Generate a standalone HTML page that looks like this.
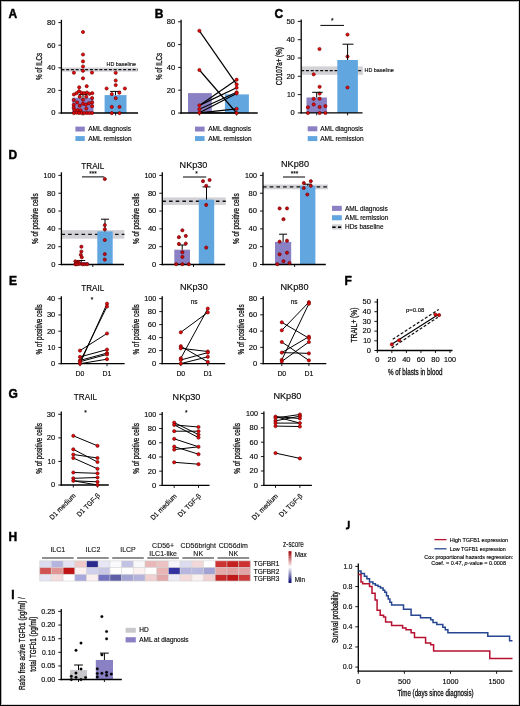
<!DOCTYPE html>
<html><head><meta charset="utf-8"><style>
html,body{margin:0;padding:0;background:#fff;overflow:hidden;}
svg{display:block;font-family:"Liberation Sans",sans-serif;will-change:transform;}
text{stroke:#111;stroke-width:0.14px;}
</style></head><body>
<svg width="520" height="706" viewBox="0 0 520 706">
<rect x="0" y="0" width="520" height="706" fill="#fff"/>
<text x="8.40" y="17.70" font-size="12" font-weight="bold" fill="#000" style="stroke:#000;stroke-width:0.45px">A</text>
<rect x="61.40" y="67.50" width="76.60" height="4.20" fill="#d2d2d6"/>
<line x1="61.40" y1="69.60" x2="138.00" y2="69.60" stroke="#111" stroke-width="1.35" stroke-dasharray="3.0,1.75"/>
<text x="136.00" y="65.70" font-size="5.8" text-anchor="end" textLength="29.5" lengthAdjust="spacingAndGlyphs">HD baseline</text>
<rect x="72.30" y="97.70" width="21.20" height="15.30" fill="#8a80c4"/>
<rect x="104.60" y="95.10" width="21.90" height="17.90" fill="#62a6e0"/>
<line x1="83.00" y1="97.70" x2="83.00" y2="94.60" stroke="#000" stroke-width="1.0"/>
<line x1="78.60" y1="94.60" x2="87.40" y2="94.60" stroke="#000" stroke-width="1.0"/>
<line x1="115.50" y1="95.10" x2="115.50" y2="91.40" stroke="#000" stroke-width="1.0"/>
<line x1="110.15" y1="91.40" x2="120.85" y2="91.40" stroke="#000" stroke-width="1.0"/>
<line x1="61.40" y1="19.80" x2="61.40" y2="113.65" stroke="#000" stroke-width="1.3"/>
<line x1="58.40" y1="22.60" x2="61.40" y2="22.60" stroke="#000" stroke-width="0.9"/>
<text x="55.40" y="24.95" font-size="6.5" text-anchor="end" textLength="8.4" lengthAdjust="spacingAndGlyphs">80</text>
<line x1="58.40" y1="45.20" x2="61.40" y2="45.20" stroke="#000" stroke-width="0.9"/>
<text x="55.40" y="47.55" font-size="6.5" text-anchor="end" textLength="8.4" lengthAdjust="spacingAndGlyphs">60</text>
<line x1="58.40" y1="67.80" x2="61.40" y2="67.80" stroke="#000" stroke-width="0.9"/>
<text x="55.40" y="70.15" font-size="6.5" text-anchor="end" textLength="8.4" lengthAdjust="spacingAndGlyphs">40</text>
<line x1="58.40" y1="90.40" x2="61.40" y2="90.40" stroke="#000" stroke-width="0.9"/>
<text x="55.40" y="92.75" font-size="6.5" text-anchor="end" textLength="8.4" lengthAdjust="spacingAndGlyphs">20</text>
<line x1="58.40" y1="113.00" x2="61.40" y2="113.00" stroke="#000" stroke-width="0.9"/>
<text x="55.40" y="115.35" font-size="6.5" text-anchor="end" textLength="4.2" lengthAdjust="spacingAndGlyphs">0</text>
<line x1="60.75" y1="113.00" x2="138.00" y2="113.00" stroke="#000" stroke-width="1.3"/>
<line x1="83.00" y1="113.00" x2="83.00" y2="115.50" stroke="#000" stroke-width="0.9"/>
<line x1="115.60" y1="113.00" x2="115.60" y2="115.50" stroke="#000" stroke-width="0.9"/>
<text x="42.00" y="66.45" font-size="9.2" text-anchor="middle" textLength="27.3" lengthAdjust="spacingAndGlyphs" style="stroke:#1a1a1a;stroke-width:0.3px" transform="rotate(-90 42.00 66.45)">% of ILCs</text>
<circle cx="83.00" cy="32.00" r="1.6" fill="#e60a0a" stroke="#6e0000" stroke-width="0.65"/>
<circle cx="83.00" cy="54.50" r="1.6" fill="#e60a0a" stroke="#6e0000" stroke-width="0.65"/>
<circle cx="83.00" cy="61.40" r="1.6" fill="#e60a0a" stroke="#6e0000" stroke-width="0.65"/>
<circle cx="83.00" cy="66.50" r="1.6" fill="#e60a0a" stroke="#6e0000" stroke-width="0.65"/>
<circle cx="73.90" cy="72.70" r="1.6" fill="#e60a0a" stroke="#6e0000" stroke-width="0.65"/>
<circle cx="83.00" cy="70.80" r="1.6" fill="#e60a0a" stroke="#6e0000" stroke-width="0.65"/>
<circle cx="92.00" cy="72.60" r="1.6" fill="#e60a0a" stroke="#6e0000" stroke-width="0.65"/>
<circle cx="83.00" cy="78.30" r="1.6" fill="#e60a0a" stroke="#6e0000" stroke-width="0.65"/>
<circle cx="79.20" cy="87.30" r="1.6" fill="#e60a0a" stroke="#6e0000" stroke-width="0.65"/>
<circle cx="86.70" cy="86.20" r="1.6" fill="#e60a0a" stroke="#6e0000" stroke-width="0.65"/>
<circle cx="79.00" cy="91.20" r="1.6" fill="#e60a0a" stroke="#6e0000" stroke-width="0.65"/>
<circle cx="73.90" cy="94.50" r="1.6" fill="#e60a0a" stroke="#6e0000" stroke-width="0.65"/>
<circle cx="76.50" cy="93.20" r="1.6" fill="#e60a0a" stroke="#6e0000" stroke-width="0.65"/>
<circle cx="81.40" cy="92.80" r="1.6" fill="#e60a0a" stroke="#6e0000" stroke-width="0.65"/>
<circle cx="84.00" cy="93.20" r="1.6" fill="#e60a0a" stroke="#6e0000" stroke-width="0.65"/>
<circle cx="86.90" cy="92.50" r="1.6" fill="#e60a0a" stroke="#6e0000" stroke-width="0.65"/>
<circle cx="89.50" cy="93.80" r="1.6" fill="#e60a0a" stroke="#6e0000" stroke-width="0.65"/>
<circle cx="92.30" cy="93.20" r="1.6" fill="#e60a0a" stroke="#6e0000" stroke-width="0.65"/>
<circle cx="79.70" cy="96.70" r="1.6" fill="#e60a0a" stroke="#6e0000" stroke-width="0.65"/>
<circle cx="86.30" cy="96.70" r="1.6" fill="#e60a0a" stroke="#6e0000" stroke-width="0.65"/>
<circle cx="92.10" cy="98.00" r="1.6" fill="#e60a0a" stroke="#6e0000" stroke-width="0.65"/>
<circle cx="73.70" cy="100.10" r="1.6" fill="#e60a0a" stroke="#6e0000" stroke-width="0.65"/>
<circle cx="83.00" cy="99.70" r="1.6" fill="#e60a0a" stroke="#6e0000" stroke-width="0.65"/>
<circle cx="77.10" cy="102.40" r="1.6" fill="#e60a0a" stroke="#6e0000" stroke-width="0.65"/>
<circle cx="92.10" cy="102.40" r="1.6" fill="#e60a0a" stroke="#6e0000" stroke-width="0.65"/>
<circle cx="83.00" cy="103.70" r="1.6" fill="#e60a0a" stroke="#6e0000" stroke-width="0.65"/>
<circle cx="88.90" cy="103.30" r="1.6" fill="#e60a0a" stroke="#6e0000" stroke-width="0.65"/>
<circle cx="85.90" cy="104.60" r="1.6" fill="#e60a0a" stroke="#6e0000" stroke-width="0.65"/>
<circle cx="73.70" cy="104.90" r="1.6" fill="#e60a0a" stroke="#6e0000" stroke-width="0.65"/>
<circle cx="79.70" cy="105.70" r="1.6" fill="#e60a0a" stroke="#6e0000" stroke-width="0.65"/>
<circle cx="92.10" cy="106.20" r="1.6" fill="#e60a0a" stroke="#6e0000" stroke-width="0.65"/>
<circle cx="73.70" cy="107.80" r="1.6" fill="#e60a0a" stroke="#6e0000" stroke-width="0.65"/>
<circle cx="86.30" cy="108.60" r="1.6" fill="#e60a0a" stroke="#6e0000" stroke-width="0.65"/>
<circle cx="77.80" cy="110.10" r="1.6" fill="#e60a0a" stroke="#6e0000" stroke-width="0.65"/>
<circle cx="80.70" cy="110.40" r="1.6" fill="#e60a0a" stroke="#6e0000" stroke-width="0.65"/>
<circle cx="74.50" cy="110.10" r="1.6" fill="#e60a0a" stroke="#6e0000" stroke-width="0.65"/>
<circle cx="73.90" cy="113.00" r="1.6" fill="#e60a0a" stroke="#6e0000" stroke-width="0.65"/>
<circle cx="76.50" cy="112.70" r="1.6" fill="#e60a0a" stroke="#6e0000" stroke-width="0.65"/>
<circle cx="79.10" cy="113.00" r="1.6" fill="#e60a0a" stroke="#6e0000" stroke-width="0.65"/>
<circle cx="81.70" cy="113.00" r="1.6" fill="#e60a0a" stroke="#6e0000" stroke-width="0.65"/>
<circle cx="84.30" cy="113.00" r="1.6" fill="#e60a0a" stroke="#6e0000" stroke-width="0.65"/>
<circle cx="86.90" cy="113.00" r="1.6" fill="#e60a0a" stroke="#6e0000" stroke-width="0.65"/>
<circle cx="89.50" cy="113.00" r="1.6" fill="#e60a0a" stroke="#6e0000" stroke-width="0.65"/>
<circle cx="92.10" cy="113.00" r="1.6" fill="#e60a0a" stroke="#6e0000" stroke-width="0.65"/>
<circle cx="115.70" cy="72.80" r="1.6" fill="#e60a0a" stroke="#6e0000" stroke-width="0.65"/>
<circle cx="115.70" cy="80.50" r="1.6" fill="#e60a0a" stroke="#6e0000" stroke-width="0.65"/>
<circle cx="115.70" cy="85.10" r="1.6" fill="#e60a0a" stroke="#6e0000" stroke-width="0.65"/>
<circle cx="106.60" cy="88.50" r="1.6" fill="#e60a0a" stroke="#6e0000" stroke-width="0.65"/>
<circle cx="124.90" cy="88.50" r="1.6" fill="#e60a0a" stroke="#6e0000" stroke-width="0.65"/>
<circle cx="111.80" cy="94.10" r="1.6" fill="#e60a0a" stroke="#6e0000" stroke-width="0.65"/>
<circle cx="119.30" cy="92.70" r="1.6" fill="#e60a0a" stroke="#6e0000" stroke-width="0.65"/>
<circle cx="115.70" cy="98.20" r="1.6" fill="#e60a0a" stroke="#6e0000" stroke-width="0.65"/>
<circle cx="111.80" cy="106.90" r="1.6" fill="#e60a0a" stroke="#6e0000" stroke-width="0.65"/>
<circle cx="119.50" cy="106.90" r="1.6" fill="#e60a0a" stroke="#6e0000" stroke-width="0.65"/>
<circle cx="111.80" cy="113.10" r="1.6" fill="#e60a0a" stroke="#6e0000" stroke-width="0.65"/>
<circle cx="119.50" cy="113.10" r="1.6" fill="#e60a0a" stroke="#6e0000" stroke-width="0.65"/>
<rect x="75.40" y="126.60" width="9.40" height="4.90" fill="#8a80c4"/>
<text x="88.20" y="131.40" font-size="6.5" textLength="42.8" lengthAdjust="spacingAndGlyphs">AML diagnosis</text>
<rect x="75.40" y="136.10" width="9.40" height="4.90" fill="#62a6e0"/>
<text x="88.20" y="140.90" font-size="6.5" textLength="43.5" lengthAdjust="spacingAndGlyphs">AML remission</text>
<text x="154.80" y="17.70" font-size="12" font-weight="bold" fill="#000" style="stroke:#000;stroke-width:0.45px">B</text>
<rect x="188.00" y="93.10" width="23.80" height="19.90" fill="#8a80c4"/>
<rect x="224.90" y="94.40" width="24.00" height="18.60" fill="#62a6e0"/>
<line x1="181.10" y1="19.80" x2="181.10" y2="113.65" stroke="#000" stroke-width="1.3"/>
<line x1="178.10" y1="21.80" x2="181.10" y2="21.80" stroke="#000" stroke-width="0.9"/>
<text x="175.10" y="24.15" font-size="6.5" text-anchor="end" textLength="8.4" lengthAdjust="spacingAndGlyphs">80</text>
<line x1="178.10" y1="44.60" x2="181.10" y2="44.60" stroke="#000" stroke-width="0.9"/>
<text x="175.10" y="46.95" font-size="6.5" text-anchor="end" textLength="8.4" lengthAdjust="spacingAndGlyphs">60</text>
<line x1="178.10" y1="67.40" x2="181.10" y2="67.40" stroke="#000" stroke-width="0.9"/>
<text x="175.10" y="69.75" font-size="6.5" text-anchor="end" textLength="8.4" lengthAdjust="spacingAndGlyphs">40</text>
<line x1="178.10" y1="90.20" x2="181.10" y2="90.20" stroke="#000" stroke-width="0.9"/>
<text x="175.10" y="92.55" font-size="6.5" text-anchor="end" textLength="8.4" lengthAdjust="spacingAndGlyphs">20</text>
<line x1="178.10" y1="113.00" x2="181.10" y2="113.00" stroke="#000" stroke-width="0.9"/>
<text x="175.10" y="115.35" font-size="6.5" text-anchor="end" textLength="4.2" lengthAdjust="spacingAndGlyphs">0</text>
<line x1="180.45" y1="113.00" x2="257.70" y2="113.00" stroke="#000" stroke-width="1.3"/>
<line x1="199.40" y1="113.00" x2="199.40" y2="115.50" stroke="#000" stroke-width="0.9"/>
<line x1="236.60" y1="113.00" x2="236.60" y2="115.50" stroke="#000" stroke-width="0.9"/>
<text x="161.70" y="66.45" font-size="9.2" text-anchor="middle" textLength="27.3" lengthAdjust="spacingAndGlyphs" style="stroke:#1a1a1a;stroke-width:0.3px" transform="rotate(-90 161.70 66.45)">% of ILCs</text>
<line x1="199.40" y1="30.80" x2="236.60" y2="84.30" stroke="#000" stroke-width="1.2"/>
<line x1="199.40" y1="70.00" x2="236.60" y2="113.00" stroke="#000" stroke-width="1.2"/>
<line x1="199.40" y1="105.40" x2="236.60" y2="79.70" stroke="#000" stroke-width="1.2"/>
<line x1="199.40" y1="105.40" x2="236.60" y2="87.70" stroke="#000" stroke-width="1.2"/>
<line x1="199.40" y1="109.20" x2="236.60" y2="92.30" stroke="#000" stroke-width="1.2"/>
<line x1="199.40" y1="112.80" x2="236.60" y2="93.50" stroke="#000" stroke-width="1.2"/>
<line x1="199.40" y1="112.80" x2="236.60" y2="108.80" stroke="#000" stroke-width="1.2"/>
<line x1="199.40" y1="112.80" x2="236.60" y2="113.00" stroke="#000" stroke-width="1.2"/>
<circle cx="199.40" cy="30.80" r="1.6" fill="#e60a0a" stroke="#6e0000" stroke-width="0.65"/>
<circle cx="199.40" cy="70.00" r="1.6" fill="#e60a0a" stroke="#6e0000" stroke-width="0.65"/>
<circle cx="199.40" cy="105.40" r="1.6" fill="#e60a0a" stroke="#6e0000" stroke-width="0.65"/>
<circle cx="199.40" cy="109.20" r="1.6" fill="#e60a0a" stroke="#6e0000" stroke-width="0.65"/>
<circle cx="199.40" cy="112.80" r="1.6" fill="#e60a0a" stroke="#6e0000" stroke-width="0.65"/>
<circle cx="236.60" cy="79.70" r="1.6" fill="#e60a0a" stroke="#6e0000" stroke-width="0.65"/>
<circle cx="236.60" cy="84.30" r="1.6" fill="#e60a0a" stroke="#6e0000" stroke-width="0.65"/>
<circle cx="236.60" cy="87.70" r="1.6" fill="#e60a0a" stroke="#6e0000" stroke-width="0.65"/>
<circle cx="236.60" cy="92.30" r="1.6" fill="#e60a0a" stroke="#6e0000" stroke-width="0.65"/>
<circle cx="236.60" cy="93.50" r="1.6" fill="#e60a0a" stroke="#6e0000" stroke-width="0.65"/>
<circle cx="236.60" cy="108.80" r="1.6" fill="#e60a0a" stroke="#6e0000" stroke-width="0.65"/>
<circle cx="236.60" cy="113.00" r="1.6" fill="#e60a0a" stroke="#6e0000" stroke-width="0.65"/>
<rect x="195.00" y="126.60" width="9.60" height="4.90" fill="#8a80c4"/>
<text x="208.20" y="131.40" font-size="6.5" textLength="42.8" lengthAdjust="spacingAndGlyphs">AML diagnosis</text>
<rect x="195.00" y="136.10" width="9.60" height="4.90" fill="#62a6e0"/>
<text x="208.20" y="140.90" font-size="6.5" textLength="43.5" lengthAdjust="spacingAndGlyphs">AML remission</text>
<text x="274.40" y="17.70" font-size="12" font-weight="bold" fill="#000" style="stroke:#000;stroke-width:0.45px">C</text>
<rect x="301.20" y="66.40" width="61.70" height="8.40" fill="#d2d2d6"/>
<line x1="301.20" y1="70.60" x2="362.90" y2="70.60" stroke="#111" stroke-width="1.35" stroke-dasharray="3.0,1.75"/>
<text x="364.50" y="71.70" font-size="5.8" textLength="29.3" lengthAdjust="spacingAndGlyphs">HD baseline</text>
<rect x="306.50" y="97.50" width="20.40" height="15.40" fill="#8a80c4"/>
<rect x="337.30" y="60.00" width="20.60" height="52.90" fill="#62a6e0"/>
<line x1="301.20" y1="19.50" x2="301.20" y2="113.55" stroke="#000" stroke-width="1.3"/>
<line x1="297.80" y1="21.40" x2="301.20" y2="21.40" stroke="#000" stroke-width="0.9"/>
<text x="294.80" y="23.75" font-size="6.5" text-anchor="end" textLength="8.4" lengthAdjust="spacingAndGlyphs">50</text>
<line x1="297.80" y1="39.70" x2="301.20" y2="39.70" stroke="#000" stroke-width="0.9"/>
<text x="294.80" y="42.05" font-size="6.5" text-anchor="end" textLength="8.4" lengthAdjust="spacingAndGlyphs">40</text>
<line x1="297.80" y1="58.00" x2="301.20" y2="58.00" stroke="#000" stroke-width="0.9"/>
<text x="294.80" y="60.35" font-size="6.5" text-anchor="end" textLength="8.4" lengthAdjust="spacingAndGlyphs">30</text>
<line x1="297.80" y1="76.30" x2="301.20" y2="76.30" stroke="#000" stroke-width="0.9"/>
<text x="294.80" y="78.65" font-size="6.5" text-anchor="end" textLength="8.4" lengthAdjust="spacingAndGlyphs">20</text>
<line x1="297.80" y1="94.60" x2="301.20" y2="94.60" stroke="#000" stroke-width="0.9"/>
<text x="294.80" y="96.95" font-size="6.5" text-anchor="end" textLength="7.7" lengthAdjust="spacingAndGlyphs">10</text>
<line x1="297.80" y1="112.90" x2="301.20" y2="112.90" stroke="#000" stroke-width="0.9"/>
<text x="294.80" y="115.25" font-size="6.5" text-anchor="end" textLength="4.2" lengthAdjust="spacingAndGlyphs">0</text>
<line x1="300.55" y1="112.90" x2="362.50" y2="112.90" stroke="#000" stroke-width="1.3"/>
<line x1="316.70" y1="112.90" x2="316.70" y2="115.40" stroke="#000" stroke-width="0.9"/>
<line x1="347.60" y1="112.90" x2="347.60" y2="115.40" stroke="#000" stroke-width="0.9"/>
<text x="281.60" y="66.20" font-size="8.9" text-anchor="middle" textLength="37.9" lengthAdjust="spacingAndGlyphs" style="stroke:#1a1a1a;stroke-width:0.3px" transform="rotate(-90 281.60 66.20)">CD107a+ (%)</text>
<line x1="320.40" y1="25.40" x2="344.00" y2="25.40" stroke="#000" stroke-width="1.0"/>
<text x="332.20" y="22.70" font-size="6.5" text-anchor="middle">*</text>
<circle cx="319.50" cy="49.00" r="1.6" fill="#e60a0a" stroke="#6e0000" stroke-width="0.65"/>
<circle cx="313.70" cy="74.30" r="1.6" fill="#e60a0a" stroke="#6e0000" stroke-width="0.65"/>
<circle cx="319.60" cy="86.80" r="1.6" fill="#e60a0a" stroke="#6e0000" stroke-width="0.65"/>
<circle cx="319.60" cy="93.60" r="1.6" fill="#e60a0a" stroke="#6e0000" stroke-width="0.65"/>
<circle cx="313.70" cy="98.80" r="1.6" fill="#e60a0a" stroke="#6e0000" stroke-width="0.65"/>
<circle cx="319.60" cy="98.70" r="1.6" fill="#e60a0a" stroke="#6e0000" stroke-width="0.65"/>
<circle cx="313.70" cy="104.40" r="1.6" fill="#e60a0a" stroke="#6e0000" stroke-width="0.65"/>
<circle cx="307.90" cy="107.30" r="1.6" fill="#e60a0a" stroke="#6e0000" stroke-width="0.65"/>
<circle cx="319.60" cy="107.00" r="1.6" fill="#e60a0a" stroke="#6e0000" stroke-width="0.65"/>
<circle cx="325.40" cy="106.10" r="1.6" fill="#e60a0a" stroke="#6e0000" stroke-width="0.65"/>
<circle cx="307.90" cy="113.00" r="1.6" fill="#e60a0a" stroke="#6e0000" stroke-width="0.65"/>
<circle cx="319.60" cy="113.00" r="1.6" fill="#e60a0a" stroke="#6e0000" stroke-width="0.65"/>
<circle cx="325.40" cy="113.00" r="1.6" fill="#e60a0a" stroke="#6e0000" stroke-width="0.65"/>
<circle cx="347.50" cy="34.60" r="1.6" fill="#e60a0a" stroke="#6e0000" stroke-width="0.65"/>
<circle cx="347.50" cy="56.50" r="1.6" fill="#e60a0a" stroke="#6e0000" stroke-width="0.65"/>
<circle cx="347.50" cy="87.50" r="1.6" fill="#e60a0a" stroke="#6e0000" stroke-width="0.65"/>
<line x1="316.70" y1="97.50" x2="316.70" y2="92.30" stroke="#000" stroke-width="1.0"/>
<line x1="312.20" y1="92.30" x2="322.80" y2="92.30" stroke="#000" stroke-width="1.0"/>
<line x1="347.60" y1="60.00" x2="347.60" y2="44.20" stroke="#000" stroke-width="1.0"/>
<line x1="342.50" y1="44.20" x2="353.50" y2="44.20" stroke="#000" stroke-width="1.0"/>
<rect x="307.70" y="126.30" width="9.60" height="5.00" fill="#8a80c4"/>
<text x="320.20" y="131.40" font-size="6.5" textLength="42.8" lengthAdjust="spacingAndGlyphs">AML diagnosis</text>
<rect x="307.70" y="136.10" width="9.60" height="5.00" fill="#62a6e0"/>
<text x="320.20" y="140.90" font-size="6.5" textLength="43.5" lengthAdjust="spacingAndGlyphs">AML remission</text>
<text x="8.40" y="158.80" font-size="12" font-weight="bold" fill="#000" style="stroke:#000;stroke-width:0.45px">D</text>
<text x="92.85" y="168.60" font-size="9.3" text-anchor="middle" textLength="23.1" lengthAdjust="spacingAndGlyphs">TRAIL</text>
<rect x="61.40" y="230.15" width="63.00" height="8.50" fill="#d2d2d6"/>
<line x1="61.40" y1="234.40" x2="124.40" y2="234.40" stroke="#111" stroke-width="1.35" stroke-dasharray="3.6,3.1"/>
<rect x="74.00" y="262.00" width="14.50" height="2.20" fill="#8a80c4"/>
<rect x="97.30" y="231.40" width="15.40" height="33.10" fill="#62a6e0"/>
<line x1="81.20" y1="262.50" x2="81.20" y2="260.50" stroke="#000" stroke-width="1.0"/>
<line x1="77.20" y1="260.50" x2="85.20" y2="260.50" stroke="#000" stroke-width="1.0"/>
<line x1="105.00" y1="231.40" x2="105.00" y2="219.20" stroke="#000" stroke-width="1.0"/>
<line x1="101.00" y1="219.20" x2="109.00" y2="219.20" stroke="#000" stroke-width="1.0"/>
<line x1="61.40" y1="172.30" x2="61.40" y2="265.15" stroke="#000" stroke-width="1.3"/>
<line x1="58.40" y1="175.40" x2="61.40" y2="175.40" stroke="#000" stroke-width="0.9"/>
<text x="55.40" y="177.75" font-size="6.5" text-anchor="end" textLength="11.9" lengthAdjust="spacingAndGlyphs">100</text>
<line x1="58.40" y1="193.22" x2="61.40" y2="193.22" stroke="#000" stroke-width="0.9"/>
<text x="55.40" y="195.57" font-size="6.5" text-anchor="end" textLength="8.4" lengthAdjust="spacingAndGlyphs">80</text>
<line x1="58.40" y1="211.04" x2="61.40" y2="211.04" stroke="#000" stroke-width="0.9"/>
<text x="55.40" y="213.39" font-size="6.5" text-anchor="end" textLength="8.4" lengthAdjust="spacingAndGlyphs">60</text>
<line x1="58.40" y1="228.86" x2="61.40" y2="228.86" stroke="#000" stroke-width="0.9"/>
<text x="55.40" y="231.21" font-size="6.5" text-anchor="end" textLength="8.4" lengthAdjust="spacingAndGlyphs">40</text>
<line x1="58.40" y1="246.68" x2="61.40" y2="246.68" stroke="#000" stroke-width="0.9"/>
<text x="55.40" y="249.03" font-size="6.5" text-anchor="end" textLength="8.4" lengthAdjust="spacingAndGlyphs">20</text>
<line x1="58.40" y1="264.50" x2="61.40" y2="264.50" stroke="#000" stroke-width="0.9"/>
<text x="55.40" y="266.85" font-size="6.5" text-anchor="end" textLength="4.2" lengthAdjust="spacingAndGlyphs">0</text>
<line x1="60.75" y1="264.50" x2="124.00" y2="264.50" stroke="#000" stroke-width="1.3"/>
<line x1="92.80" y1="264.50" x2="92.80" y2="267.00" stroke="#000" stroke-width="0.9"/>
<text x="37.90" y="218.70" font-size="8.6" text-anchor="middle" textLength="50.6" lengthAdjust="spacingAndGlyphs" style="stroke:#1a1a1a;stroke-width:0.3px" transform="rotate(-90 37.90 218.70)">% of positive cells</text>
<line x1="82.00" y1="176.90" x2="104.30" y2="176.90" stroke="#000" stroke-width="1.0"/>
<text x="93.00" y="175.80" font-size="6.5" text-anchor="middle">***</text>
<circle cx="104.80" cy="179.00" r="1.6" fill="#c80a10" stroke="#6e0000" stroke-width="0.65"/>
<circle cx="104.80" cy="225.10" r="1.6" fill="#c80a10" stroke="#6e0000" stroke-width="0.65"/>
<circle cx="104.80" cy="229.30" r="1.6" fill="#c80a10" stroke="#6e0000" stroke-width="0.65"/>
<circle cx="104.80" cy="240.00" r="1.6" fill="#c80a10" stroke="#6e0000" stroke-width="0.65"/>
<circle cx="104.80" cy="254.10" r="1.6" fill="#c80a10" stroke="#6e0000" stroke-width="0.65"/>
<circle cx="104.80" cy="259.60" r="1.6" fill="#c80a10" stroke="#6e0000" stroke-width="0.65"/>
<circle cx="81.40" cy="246.70" r="1.6" fill="#c80a10" stroke="#6e0000" stroke-width="0.65"/>
<circle cx="81.40" cy="251.50" r="1.6" fill="#c80a10" stroke="#6e0000" stroke-width="0.65"/>
<circle cx="80.80" cy="254.80" r="1.6" fill="#c80a10" stroke="#6e0000" stroke-width="0.65"/>
<circle cx="81.80" cy="257.30" r="1.6" fill="#c80a10" stroke="#6e0000" stroke-width="0.65"/>
<circle cx="75.40" cy="261.30" r="1.6" fill="#c80a10" stroke="#6e0000" stroke-width="0.65"/>
<circle cx="78.30" cy="261.90" r="1.6" fill="#c80a10" stroke="#6e0000" stroke-width="0.65"/>
<circle cx="76.50" cy="262.80" r="1.6" fill="#c80a10" stroke="#6e0000" stroke-width="0.65"/>
<circle cx="79.40" cy="263.70" r="1.6" fill="#c80a10" stroke="#6e0000" stroke-width="0.65"/>
<circle cx="75.40" cy="264.30" r="1.6" fill="#c80a10" stroke="#6e0000" stroke-width="0.65"/>
<circle cx="77.10" cy="264.30" r="1.6" fill="#c80a10" stroke="#6e0000" stroke-width="0.65"/>
<circle cx="82.30" cy="264.20" r="1.6" fill="#c80a10" stroke="#6e0000" stroke-width="0.65"/>
<circle cx="84.60" cy="264.20" r="1.6" fill="#c80a10" stroke="#6e0000" stroke-width="0.65"/>
<circle cx="87.20" cy="264.20" r="1.6" fill="#c80a10" stroke="#6e0000" stroke-width="0.65"/>
<text x="193.50" y="167.50" font-size="9.3" text-anchor="middle" textLength="27.8" lengthAdjust="spacingAndGlyphs">NKp30</text>
<rect x="162.30" y="197.40" width="63.50" height="7.60" fill="#d2d2d6"/>
<line x1="162.30" y1="201.20" x2="225.80" y2="201.20" stroke="#111" stroke-width="1.35" stroke-dasharray="3.6,3.1"/>
<rect x="174.30" y="249.70" width="15.70" height="14.80" fill="#8a80c4"/>
<rect x="198.80" y="199.60" width="15.40" height="64.90" fill="#62a6e0"/>
<line x1="182.20" y1="249.70" x2="182.20" y2="245.00" stroke="#000" stroke-width="1.0"/>
<line x1="178.20" y1="245.00" x2="186.20" y2="245.00" stroke="#000" stroke-width="1.0"/>
<line x1="206.50" y1="199.60" x2="206.50" y2="186.90" stroke="#000" stroke-width="1.0"/>
<line x1="202.50" y1="186.90" x2="210.50" y2="186.90" stroke="#000" stroke-width="1.0"/>
<line x1="162.30" y1="172.30" x2="162.30" y2="265.15" stroke="#000" stroke-width="1.3"/>
<line x1="159.30" y1="175.40" x2="162.30" y2="175.40" stroke="#000" stroke-width="0.9"/>
<text x="156.30" y="177.75" font-size="6.5" text-anchor="end" textLength="11.9" lengthAdjust="spacingAndGlyphs">100</text>
<line x1="159.30" y1="193.22" x2="162.30" y2="193.22" stroke="#000" stroke-width="0.9"/>
<text x="156.30" y="195.57" font-size="6.5" text-anchor="end" textLength="8.4" lengthAdjust="spacingAndGlyphs">80</text>
<line x1="159.30" y1="211.04" x2="162.30" y2="211.04" stroke="#000" stroke-width="0.9"/>
<text x="156.30" y="213.39" font-size="6.5" text-anchor="end" textLength="8.4" lengthAdjust="spacingAndGlyphs">60</text>
<line x1="159.30" y1="228.86" x2="162.30" y2="228.86" stroke="#000" stroke-width="0.9"/>
<text x="156.30" y="231.21" font-size="6.5" text-anchor="end" textLength="8.4" lengthAdjust="spacingAndGlyphs">40</text>
<line x1="159.30" y1="246.68" x2="162.30" y2="246.68" stroke="#000" stroke-width="0.9"/>
<text x="156.30" y="249.03" font-size="6.5" text-anchor="end" textLength="8.4" lengthAdjust="spacingAndGlyphs">20</text>
<line x1="159.30" y1="264.50" x2="162.30" y2="264.50" stroke="#000" stroke-width="0.9"/>
<text x="156.30" y="266.85" font-size="6.5" text-anchor="end" textLength="4.2" lengthAdjust="spacingAndGlyphs">0</text>
<line x1="161.65" y1="264.50" x2="225.20" y2="264.50" stroke="#000" stroke-width="1.3"/>
<line x1="193.50" y1="264.50" x2="193.50" y2="267.00" stroke="#000" stroke-width="0.9"/>
<text x="138.80" y="218.70" font-size="8.6" text-anchor="middle" textLength="50.6" lengthAdjust="spacingAndGlyphs" style="stroke:#1a1a1a;stroke-width:0.3px" transform="rotate(-90 138.80 218.70)">% of positive cells</text>
<line x1="183.00" y1="177.00" x2="206.20" y2="177.00" stroke="#000" stroke-width="1.0"/>
<text x="196.50" y="175.80" font-size="6.5" text-anchor="middle">*</text>
<circle cx="206.20" cy="185.80" r="1.6" fill="#c80a10" stroke="#6e0000" stroke-width="0.65"/>
<circle cx="203.00" cy="181.20" r="1.6" fill="#c80a10" stroke="#6e0000" stroke-width="0.65"/>
<circle cx="209.60" cy="180.00" r="1.6" fill="#c80a10" stroke="#6e0000" stroke-width="0.65"/>
<circle cx="206.20" cy="204.90" r="1.6" fill="#c80a10" stroke="#6e0000" stroke-width="0.65"/>
<circle cx="206.20" cy="247.60" r="1.6" fill="#c80a10" stroke="#6e0000" stroke-width="0.65"/>
<circle cx="182.40" cy="230.30" r="1.6" fill="#c80a10" stroke="#6e0000" stroke-width="0.65"/>
<circle cx="178.90" cy="237.20" r="1.6" fill="#c80a10" stroke="#6e0000" stroke-width="0.65"/>
<circle cx="185.80" cy="235.90" r="1.6" fill="#c80a10" stroke="#6e0000" stroke-width="0.65"/>
<circle cx="178.90" cy="243.90" r="1.6" fill="#c80a10" stroke="#6e0000" stroke-width="0.65"/>
<circle cx="185.80" cy="243.50" r="1.6" fill="#c80a10" stroke="#6e0000" stroke-width="0.65"/>
<circle cx="182.40" cy="252.20" r="1.6" fill="#c80a10" stroke="#6e0000" stroke-width="0.65"/>
<circle cx="182.40" cy="256.90" r="1.6" fill="#c80a10" stroke="#6e0000" stroke-width="0.65"/>
<circle cx="176.20" cy="264.20" r="1.6" fill="#c80a10" stroke="#6e0000" stroke-width="0.65"/>
<circle cx="182.40" cy="264.20" r="1.6" fill="#c80a10" stroke="#6e0000" stroke-width="0.65"/>
<circle cx="188.80" cy="264.20" r="1.6" fill="#c80a10" stroke="#6e0000" stroke-width="0.65"/>
<text x="295.00" y="167.00" font-size="9.3" text-anchor="middle" textLength="28" lengthAdjust="spacingAndGlyphs">NKp80</text>
<rect x="263.00" y="184.50" width="65.00" height="4.80" fill="#d2d2d6"/>
<line x1="263.00" y1="186.90" x2="328.00" y2="186.90" stroke="#111" stroke-width="1.35" stroke-dasharray="3.6,3.1"/>
<rect x="275.00" y="241.90" width="16.20" height="22.60" fill="#8a80c4"/>
<rect x="300.00" y="185.80" width="15.40" height="78.70" fill="#62a6e0"/>
<line x1="283.10" y1="241.90" x2="283.10" y2="234.20" stroke="#000" stroke-width="1.0"/>
<line x1="279.10" y1="234.20" x2="287.10" y2="234.20" stroke="#000" stroke-width="1.0"/>
<line x1="307.70" y1="185.80" x2="307.70" y2="184.20" stroke="#000" stroke-width="1.0"/>
<line x1="303.70" y1="184.20" x2="311.70" y2="184.20" stroke="#000" stroke-width="1.0"/>
<line x1="263.00" y1="172.30" x2="263.00" y2="265.15" stroke="#000" stroke-width="1.3"/>
<line x1="260.00" y1="175.40" x2="263.00" y2="175.40" stroke="#000" stroke-width="0.9"/>
<text x="257.00" y="177.75" font-size="6.5" text-anchor="end" textLength="11.9" lengthAdjust="spacingAndGlyphs">100</text>
<line x1="260.00" y1="193.22" x2="263.00" y2="193.22" stroke="#000" stroke-width="0.9"/>
<text x="257.00" y="195.57" font-size="6.5" text-anchor="end" textLength="8.4" lengthAdjust="spacingAndGlyphs">80</text>
<line x1="260.00" y1="211.04" x2="263.00" y2="211.04" stroke="#000" stroke-width="0.9"/>
<text x="257.00" y="213.39" font-size="6.5" text-anchor="end" textLength="8.4" lengthAdjust="spacingAndGlyphs">60</text>
<line x1="260.00" y1="228.86" x2="263.00" y2="228.86" stroke="#000" stroke-width="0.9"/>
<text x="257.00" y="231.21" font-size="6.5" text-anchor="end" textLength="8.4" lengthAdjust="spacingAndGlyphs">40</text>
<line x1="260.00" y1="246.68" x2="263.00" y2="246.68" stroke="#000" stroke-width="0.9"/>
<text x="257.00" y="249.03" font-size="6.5" text-anchor="end" textLength="8.4" lengthAdjust="spacingAndGlyphs">20</text>
<line x1="260.00" y1="264.50" x2="263.00" y2="264.50" stroke="#000" stroke-width="0.9"/>
<text x="257.00" y="266.85" font-size="6.5" text-anchor="end" textLength="4.2" lengthAdjust="spacingAndGlyphs">0</text>
<line x1="262.35" y1="264.50" x2="325.80" y2="264.50" stroke="#000" stroke-width="1.3"/>
<line x1="294.60" y1="264.50" x2="294.60" y2="267.00" stroke="#000" stroke-width="0.9"/>
<text x="239.50" y="218.70" font-size="8.6" text-anchor="middle" textLength="50.6" lengthAdjust="spacingAndGlyphs" style="stroke:#1a1a1a;stroke-width:0.3px" transform="rotate(-90 239.50 218.70)">% of positive cells</text>
<line x1="283.00" y1="177.00" x2="305.00" y2="177.00" stroke="#000" stroke-width="1.0"/>
<text x="294.60" y="175.80" font-size="6.5" text-anchor="middle">***</text>
<circle cx="303.80" cy="183.00" r="1.6" fill="#c80a10" stroke="#6e0000" stroke-width="0.65"/>
<circle cx="310.80" cy="181.20" r="1.6" fill="#c80a10" stroke="#6e0000" stroke-width="0.65"/>
<circle cx="310.80" cy="185.80" r="1.6" fill="#c80a10" stroke="#6e0000" stroke-width="0.65"/>
<circle cx="303.80" cy="188.00" r="1.6" fill="#c80a10" stroke="#6e0000" stroke-width="0.65"/>
<circle cx="307.30" cy="194.50" r="1.6" fill="#c80a10" stroke="#6e0000" stroke-width="0.65"/>
<circle cx="279.60" cy="208.40" r="1.6" fill="#c80a10" stroke="#6e0000" stroke-width="0.65"/>
<circle cx="287.00" cy="208.40" r="1.6" fill="#c80a10" stroke="#6e0000" stroke-width="0.65"/>
<circle cx="283.50" cy="219.20" r="1.6" fill="#c80a10" stroke="#6e0000" stroke-width="0.65"/>
<circle cx="279.60" cy="241.60" r="1.6" fill="#c80a10" stroke="#6e0000" stroke-width="0.65"/>
<circle cx="287.00" cy="240.70" r="1.6" fill="#c80a10" stroke="#6e0000" stroke-width="0.65"/>
<circle cx="287.00" cy="252.70" r="1.6" fill="#c80a10" stroke="#6e0000" stroke-width="0.65"/>
<circle cx="279.60" cy="254.30" r="1.6" fill="#c80a10" stroke="#6e0000" stroke-width="0.65"/>
<circle cx="283.50" cy="261.20" r="1.6" fill="#c80a10" stroke="#6e0000" stroke-width="0.65"/>
<circle cx="277.30" cy="264.20" r="1.6" fill="#c80a10" stroke="#6e0000" stroke-width="0.65"/>
<circle cx="289.50" cy="263.00" r="1.6" fill="#c80a10" stroke="#6e0000" stroke-width="0.65"/>
<rect x="332.00" y="205.80" width="9.80" height="5.10" fill="#8a80c4"/>
<text x="345.00" y="210.60" font-size="6.5" textLength="42.7" lengthAdjust="spacingAndGlyphs">AML diagnosis</text>
<rect x="332.00" y="215.20" width="9.80" height="5.10" fill="#62a6e0"/>
<text x="345.00" y="219.80" font-size="6.5" textLength="43.4" lengthAdjust="spacingAndGlyphs">AML remission</text>
<rect x="332.00" y="224.30" width="9.80" height="5.30" fill="#d2d2d6"/>
<line x1="332.20" y1="227.20" x2="335.60" y2="227.20" stroke="#000" stroke-width="1.6"/>
<line x1="338.00" y1="227.20" x2="341.20" y2="227.20" stroke="#000" stroke-width="1.6"/>
<text x="345.00" y="229.20" font-size="6.5" textLength="38.5" lengthAdjust="spacingAndGlyphs">HDs baseline</text>
<text x="9.00" y="285.20" font-size="12" font-weight="bold" fill="#000" style="stroke:#000;stroke-width:0.45px">E</text>
<text x="92.75" y="290.60" font-size="9.3" text-anchor="middle" textLength="23.1" lengthAdjust="spacingAndGlyphs">TRAIL</text>
<line x1="61.30" y1="296.30" x2="61.30" y2="364.35" stroke="#000" stroke-width="1.3"/>
<line x1="58.30" y1="298.70" x2="61.30" y2="298.70" stroke="#000" stroke-width="0.9"/>
<text x="55.30" y="301.05" font-size="6.5" text-anchor="end" textLength="8.4" lengthAdjust="spacingAndGlyphs">40</text>
<line x1="58.30" y1="314.95" x2="61.30" y2="314.95" stroke="#000" stroke-width="0.9"/>
<text x="55.30" y="317.30" font-size="6.5" text-anchor="end" textLength="8.4" lengthAdjust="spacingAndGlyphs">30</text>
<line x1="58.30" y1="331.20" x2="61.30" y2="331.20" stroke="#000" stroke-width="0.9"/>
<text x="55.30" y="333.55" font-size="6.5" text-anchor="end" textLength="8.4" lengthAdjust="spacingAndGlyphs">20</text>
<line x1="58.30" y1="347.45" x2="61.30" y2="347.45" stroke="#000" stroke-width="0.9"/>
<text x="55.30" y="349.80" font-size="6.5" text-anchor="end" textLength="7.7" lengthAdjust="spacingAndGlyphs">10</text>
<line x1="58.30" y1="363.70" x2="61.30" y2="363.70" stroke="#000" stroke-width="0.9"/>
<text x="55.30" y="366.05" font-size="6.5" text-anchor="end" textLength="4.2" lengthAdjust="spacingAndGlyphs">0</text>
<line x1="60.65" y1="363.70" x2="124.60" y2="363.70" stroke="#000" stroke-width="1.3"/>
<line x1="80.00" y1="363.70" x2="80.00" y2="366.20" stroke="#000" stroke-width="0.9"/>
<line x1="107.00" y1="363.70" x2="107.00" y2="366.20" stroke="#000" stroke-width="0.9"/>
<text x="41.90" y="329.40" font-size="8.6" text-anchor="middle" textLength="50.2" lengthAdjust="spacingAndGlyphs" style="stroke:#1a1a1a;stroke-width:0.3px" transform="rotate(-90 41.90 329.40)">% of positive cells</text>
<text x="92.10" y="301.50" font-size="6.5" text-anchor="middle">*</text>
<text x="80.00" y="375.90" font-size="6.9" text-anchor="middle">D0</text>
<text x="107.00" y="375.90" font-size="6.9" text-anchor="middle">D1</text>
<line x1="80.00" y1="350.60" x2="107.00" y2="333.50" stroke="#000" stroke-width="1.0"/>
<line x1="80.00" y1="363.70" x2="107.00" y2="303.70" stroke="#000" stroke-width="1.0"/>
<line x1="80.00" y1="361.70" x2="107.00" y2="306.50" stroke="#000" stroke-width="1.0"/>
<line x1="80.00" y1="356.90" x2="107.00" y2="349.60" stroke="#000" stroke-width="1.0"/>
<line x1="80.00" y1="360.40" x2="107.00" y2="353.10" stroke="#000" stroke-width="1.0"/>
<line x1="80.00" y1="361.70" x2="107.00" y2="354.40" stroke="#000" stroke-width="1.0"/>
<line x1="80.00" y1="363.70" x2="107.00" y2="359.20" stroke="#000" stroke-width="1.0"/>
<circle cx="80.00" cy="350.60" r="1.6" fill="#e60a0a" stroke="#6e0000" stroke-width="0.65"/>
<circle cx="80.00" cy="356.90" r="1.6" fill="#e60a0a" stroke="#6e0000" stroke-width="0.65"/>
<circle cx="80.00" cy="360.40" r="1.6" fill="#e60a0a" stroke="#6e0000" stroke-width="0.65"/>
<circle cx="80.00" cy="361.70" r="1.6" fill="#e60a0a" stroke="#6e0000" stroke-width="0.65"/>
<circle cx="80.00" cy="363.70" r="1.6" fill="#e60a0a" stroke="#6e0000" stroke-width="0.65"/>
<circle cx="107.00" cy="303.70" r="1.6" fill="#e60a0a" stroke="#6e0000" stroke-width="0.65"/>
<circle cx="107.00" cy="306.50" r="1.6" fill="#e60a0a" stroke="#6e0000" stroke-width="0.65"/>
<circle cx="107.00" cy="333.50" r="1.6" fill="#e60a0a" stroke="#6e0000" stroke-width="0.65"/>
<circle cx="107.00" cy="349.60" r="1.6" fill="#e60a0a" stroke="#6e0000" stroke-width="0.65"/>
<circle cx="107.00" cy="353.10" r="1.6" fill="#e60a0a" stroke="#6e0000" stroke-width="0.65"/>
<circle cx="107.00" cy="354.40" r="1.6" fill="#e60a0a" stroke="#6e0000" stroke-width="0.65"/>
<circle cx="107.00" cy="359.20" r="1.6" fill="#e60a0a" stroke="#6e0000" stroke-width="0.65"/>
<text x="193.80" y="290.20" font-size="9.3" text-anchor="middle" textLength="27.8" lengthAdjust="spacingAndGlyphs">NKp30</text>
<line x1="162.20" y1="296.30" x2="162.20" y2="364.25" stroke="#000" stroke-width="1.3"/>
<line x1="159.20" y1="298.60" x2="162.20" y2="298.60" stroke="#000" stroke-width="0.9"/>
<text x="156.20" y="300.95" font-size="6.5" text-anchor="end" textLength="11.9" lengthAdjust="spacingAndGlyphs">100</text>
<line x1="159.20" y1="311.60" x2="162.20" y2="311.60" stroke="#000" stroke-width="0.9"/>
<text x="156.20" y="313.95" font-size="6.5" text-anchor="end" textLength="8.4" lengthAdjust="spacingAndGlyphs">80</text>
<line x1="159.20" y1="324.60" x2="162.20" y2="324.60" stroke="#000" stroke-width="0.9"/>
<text x="156.20" y="326.95" font-size="6.5" text-anchor="end" textLength="8.4" lengthAdjust="spacingAndGlyphs">60</text>
<line x1="159.20" y1="337.60" x2="162.20" y2="337.60" stroke="#000" stroke-width="0.9"/>
<text x="156.20" y="339.95" font-size="6.5" text-anchor="end" textLength="8.4" lengthAdjust="spacingAndGlyphs">40</text>
<line x1="159.20" y1="350.60" x2="162.20" y2="350.60" stroke="#000" stroke-width="0.9"/>
<text x="156.20" y="352.95" font-size="6.5" text-anchor="end" textLength="8.4" lengthAdjust="spacingAndGlyphs">20</text>
<line x1="159.20" y1="363.60" x2="162.20" y2="363.60" stroke="#000" stroke-width="0.9"/>
<text x="156.20" y="365.95" font-size="6.5" text-anchor="end" textLength="4.2" lengthAdjust="spacingAndGlyphs">0</text>
<line x1="161.55" y1="363.60" x2="225.20" y2="363.60" stroke="#000" stroke-width="1.3"/>
<line x1="180.80" y1="363.60" x2="180.80" y2="366.10" stroke="#000" stroke-width="0.9"/>
<line x1="207.80" y1="363.60" x2="207.80" y2="366.10" stroke="#000" stroke-width="0.9"/>
<text x="138.60" y="329.40" font-size="8.6" text-anchor="middle" textLength="50.2" lengthAdjust="spacingAndGlyphs" style="stroke:#1a1a1a;stroke-width:0.3px" transform="rotate(-90 138.60 329.40)">% of positive cells</text>
<text x="194.10" y="303.50" font-size="6.5" text-anchor="middle">ns</text>
<text x="180.80" y="375.70" font-size="6.9" text-anchor="middle">D0</text>
<text x="207.80" y="375.70" font-size="6.9" text-anchor="middle">D1</text>
<line x1="180.80" y1="332.30" x2="207.80" y2="312.40" stroke="#000" stroke-width="1.0"/>
<line x1="180.80" y1="358.30" x2="207.80" y2="308.60" stroke="#000" stroke-width="1.0"/>
<line x1="180.80" y1="346.20" x2="207.80" y2="361.90" stroke="#000" stroke-width="1.0"/>
<line x1="180.80" y1="348.30" x2="207.80" y2="351.50" stroke="#000" stroke-width="1.0"/>
<line x1="180.80" y1="360.00" x2="207.80" y2="352.60" stroke="#000" stroke-width="1.0"/>
<line x1="180.80" y1="363.60" x2="207.80" y2="356.80" stroke="#000" stroke-width="1.0"/>
<circle cx="180.80" cy="332.30" r="1.6" fill="#e60a0a" stroke="#6e0000" stroke-width="0.65"/>
<circle cx="180.80" cy="346.20" r="1.6" fill="#e60a0a" stroke="#6e0000" stroke-width="0.65"/>
<circle cx="180.80" cy="348.30" r="1.6" fill="#e60a0a" stroke="#6e0000" stroke-width="0.65"/>
<circle cx="180.80" cy="358.30" r="1.6" fill="#e60a0a" stroke="#6e0000" stroke-width="0.65"/>
<circle cx="180.80" cy="360.00" r="1.6" fill="#e60a0a" stroke="#6e0000" stroke-width="0.65"/>
<circle cx="180.80" cy="363.60" r="1.6" fill="#e60a0a" stroke="#6e0000" stroke-width="0.65"/>
<circle cx="207.80" cy="308.60" r="1.6" fill="#e60a0a" stroke="#6e0000" stroke-width="0.65"/>
<circle cx="207.80" cy="312.40" r="1.6" fill="#e60a0a" stroke="#6e0000" stroke-width="0.65"/>
<circle cx="207.80" cy="351.50" r="1.6" fill="#e60a0a" stroke="#6e0000" stroke-width="0.65"/>
<circle cx="207.80" cy="352.60" r="1.6" fill="#e60a0a" stroke="#6e0000" stroke-width="0.65"/>
<circle cx="207.80" cy="356.80" r="1.6" fill="#e60a0a" stroke="#6e0000" stroke-width="0.65"/>
<circle cx="207.80" cy="361.90" r="1.6" fill="#e60a0a" stroke="#6e0000" stroke-width="0.65"/>
<text x="294.50" y="290.20" font-size="9.3" text-anchor="middle" textLength="28" lengthAdjust="spacingAndGlyphs">NKp80</text>
<line x1="263.20" y1="296.30" x2="263.20" y2="364.25" stroke="#000" stroke-width="1.3"/>
<line x1="260.20" y1="298.60" x2="263.20" y2="298.60" stroke="#000" stroke-width="0.9"/>
<text x="257.20" y="300.95" font-size="6.5" text-anchor="end" textLength="8.4" lengthAdjust="spacingAndGlyphs">80</text>
<line x1="260.20" y1="314.85" x2="263.20" y2="314.85" stroke="#000" stroke-width="0.9"/>
<text x="257.20" y="317.20" font-size="6.5" text-anchor="end" textLength="8.4" lengthAdjust="spacingAndGlyphs">60</text>
<line x1="260.20" y1="331.10" x2="263.20" y2="331.10" stroke="#000" stroke-width="0.9"/>
<text x="257.20" y="333.45" font-size="6.5" text-anchor="end" textLength="8.4" lengthAdjust="spacingAndGlyphs">40</text>
<line x1="260.20" y1="347.35" x2="263.20" y2="347.35" stroke="#000" stroke-width="0.9"/>
<text x="257.20" y="349.70" font-size="6.5" text-anchor="end" textLength="8.4" lengthAdjust="spacingAndGlyphs">20</text>
<line x1="260.20" y1="363.60" x2="263.20" y2="363.60" stroke="#000" stroke-width="0.9"/>
<text x="257.20" y="365.95" font-size="6.5" text-anchor="end" textLength="4.2" lengthAdjust="spacingAndGlyphs">0</text>
<line x1="262.55" y1="363.60" x2="326.30" y2="363.60" stroke="#000" stroke-width="1.3"/>
<line x1="281.80" y1="363.60" x2="281.80" y2="366.10" stroke="#000" stroke-width="0.9"/>
<line x1="308.90" y1="363.60" x2="308.90" y2="366.10" stroke="#000" stroke-width="0.9"/>
<text x="243.80" y="329.40" font-size="8.6" text-anchor="middle" textLength="50.2" lengthAdjust="spacingAndGlyphs" style="stroke:#1a1a1a;stroke-width:0.3px" transform="rotate(-90 243.80 329.40)">% of positive cells</text>
<text x="294.10" y="303.50" font-size="6.5" text-anchor="middle">ns</text>
<text x="281.80" y="375.70" font-size="6.9" text-anchor="middle">D0</text>
<text x="308.90" y="375.70" font-size="6.9" text-anchor="middle">D1</text>
<line x1="281.80" y1="322.30" x2="308.90" y2="338.20" stroke="#000" stroke-width="1.0"/>
<line x1="281.80" y1="330.30" x2="308.90" y2="302.20" stroke="#000" stroke-width="1.0"/>
<line x1="281.80" y1="342.00" x2="308.90" y2="360.40" stroke="#000" stroke-width="1.0"/>
<line x1="281.80" y1="352.60" x2="308.90" y2="353.40" stroke="#000" stroke-width="1.0"/>
<line x1="281.80" y1="359.80" x2="308.90" y2="303.70" stroke="#000" stroke-width="1.0"/>
<line x1="281.80" y1="361.40" x2="308.90" y2="342.00" stroke="#000" stroke-width="1.0"/>
<line x1="281.80" y1="352.60" x2="308.90" y2="336.70" stroke="#000" stroke-width="1.0"/>
<circle cx="281.80" cy="322.30" r="1.6" fill="#e60a0a" stroke="#6e0000" stroke-width="0.65"/>
<circle cx="281.80" cy="330.30" r="1.6" fill="#e60a0a" stroke="#6e0000" stroke-width="0.65"/>
<circle cx="281.80" cy="342.00" r="1.6" fill="#e60a0a" stroke="#6e0000" stroke-width="0.65"/>
<circle cx="281.80" cy="352.60" r="1.6" fill="#e60a0a" stroke="#6e0000" stroke-width="0.65"/>
<circle cx="281.80" cy="359.80" r="1.6" fill="#e60a0a" stroke="#6e0000" stroke-width="0.65"/>
<circle cx="281.80" cy="361.40" r="1.6" fill="#e60a0a" stroke="#6e0000" stroke-width="0.65"/>
<circle cx="308.90" cy="302.20" r="1.6" fill="#e60a0a" stroke="#6e0000" stroke-width="0.65"/>
<circle cx="308.90" cy="303.70" r="1.6" fill="#e60a0a" stroke="#6e0000" stroke-width="0.65"/>
<circle cx="308.90" cy="336.70" r="1.6" fill="#e60a0a" stroke="#6e0000" stroke-width="0.65"/>
<circle cx="308.90" cy="338.20" r="1.6" fill="#e60a0a" stroke="#6e0000" stroke-width="0.65"/>
<circle cx="308.90" cy="342.00" r="1.6" fill="#e60a0a" stroke="#6e0000" stroke-width="0.65"/>
<circle cx="308.90" cy="353.40" r="1.6" fill="#e60a0a" stroke="#6e0000" stroke-width="0.65"/>
<circle cx="308.90" cy="360.40" r="1.6" fill="#e60a0a" stroke="#6e0000" stroke-width="0.65"/>
<text x="344.60" y="284.50" font-size="12" font-weight="bold" fill="#000" style="stroke:#000;stroke-width:0.45px">F</text>
<line x1="377.40" y1="298.80" x2="377.40" y2="351.15" stroke="#000" stroke-width="1.3"/>
<line x1="374.40" y1="302.00" x2="377.40" y2="302.00" stroke="#000" stroke-width="0.9"/>
<text x="370.90" y="304.35" font-size="6.5" text-anchor="end" textLength="8.4" lengthAdjust="spacingAndGlyphs">50</text>
<line x1="374.40" y1="311.70" x2="377.40" y2="311.70" stroke="#000" stroke-width="0.9"/>
<text x="370.90" y="314.05" font-size="6.5" text-anchor="end" textLength="8.4" lengthAdjust="spacingAndGlyphs">40</text>
<line x1="374.40" y1="321.40" x2="377.40" y2="321.40" stroke="#000" stroke-width="0.9"/>
<text x="370.90" y="323.75" font-size="6.5" text-anchor="end" textLength="8.4" lengthAdjust="spacingAndGlyphs">30</text>
<line x1="374.40" y1="331.10" x2="377.40" y2="331.10" stroke="#000" stroke-width="0.9"/>
<text x="370.90" y="333.45" font-size="6.5" text-anchor="end" textLength="8.4" lengthAdjust="spacingAndGlyphs">20</text>
<line x1="374.40" y1="340.80" x2="377.40" y2="340.80" stroke="#000" stroke-width="0.9"/>
<text x="370.90" y="343.15" font-size="6.5" text-anchor="end" textLength="7.7" lengthAdjust="spacingAndGlyphs">10</text>
<line x1="374.40" y1="350.50" x2="377.40" y2="350.50" stroke="#000" stroke-width="0.9"/>
<text x="370.90" y="352.85" font-size="6.5" text-anchor="end" textLength="4.2" lengthAdjust="spacingAndGlyphs">0</text>
<line x1="376.75" y1="350.50" x2="452.50" y2="350.50" stroke="#000" stroke-width="1.3"/>
<line x1="377.30" y1="350.50" x2="377.30" y2="353.00" stroke="#000" stroke-width="0.9"/>
<text x="377.30" y="362.00" font-size="6.5" text-anchor="middle" textLength="4.2" lengthAdjust="spacingAndGlyphs">0</text>
<line x1="391.84" y1="350.50" x2="391.84" y2="353.00" stroke="#000" stroke-width="0.9"/>
<text x="391.84" y="362.00" font-size="6.5" text-anchor="middle" textLength="8.4" lengthAdjust="spacingAndGlyphs">20</text>
<line x1="406.38" y1="350.50" x2="406.38" y2="353.00" stroke="#000" stroke-width="0.9"/>
<text x="406.38" y="362.00" font-size="6.5" text-anchor="middle" textLength="8.4" lengthAdjust="spacingAndGlyphs">40</text>
<line x1="420.92" y1="350.50" x2="420.92" y2="353.00" stroke="#000" stroke-width="0.9"/>
<text x="420.92" y="362.00" font-size="6.5" text-anchor="middle" textLength="8.4" lengthAdjust="spacingAndGlyphs">60</text>
<line x1="435.46" y1="350.50" x2="435.46" y2="353.00" stroke="#000" stroke-width="0.9"/>
<text x="435.46" y="362.00" font-size="6.5" text-anchor="middle" textLength="8.4" lengthAdjust="spacingAndGlyphs">80</text>
<line x1="450.00" y1="350.50" x2="450.00" y2="353.00" stroke="#000" stroke-width="0.9"/>
<text x="450.00" y="362.00" font-size="6.5" text-anchor="middle" textLength="11.9" lengthAdjust="spacingAndGlyphs">100</text>
<text x="415.20" y="374.50" font-size="8.8" text-anchor="middle" textLength="54.5" lengthAdjust="spacingAndGlyphs" style="stroke:#1a1a1a;stroke-width:0.3px">% of blasts in blood</text>
<text x="356.80" y="325.00" font-size="8.6" text-anchor="middle" textLength="35" lengthAdjust="spacingAndGlyphs" style="stroke:#1a1a1a;stroke-width:0.3px" transform="rotate(-90 356.80 325.00)">TRAIL+ (%)</text>
<text x="415.20" y="311.50" font-size="5.5" text-anchor="middle" textLength="18.5" lengthAdjust="spacingAndGlyphs">p=0.08</text>
<line x1="391.70" y1="344.20" x2="438.80" y2="314.20" stroke="#000" stroke-width="1.1"/>
<line x1="392.70" y1="339.30" x2="438.80" y2="309.40" stroke="#111" stroke-width="1.2" stroke-dasharray="3,1.8"/>
<line x1="391.70" y1="347.90" x2="437.90" y2="317.20" stroke="#111" stroke-width="1.2" stroke-dasharray="3,1.8"/>
<circle cx="391.84" cy="344.39" r="1.6" fill="#e60a0a" stroke="#6e0000" stroke-width="0.65"/>
<circle cx="399.11" cy="340.31" r="1.6" fill="#e60a0a" stroke="#6e0000" stroke-width="0.65"/>
<circle cx="435.46" cy="314.61" r="1.6" fill="#e60a0a" stroke="#6e0000" stroke-width="0.65"/>
<circle cx="439.10" cy="315.10" r="1.6" fill="#e60a0a" stroke="#6e0000" stroke-width="0.65"/>
<text x="8.40" y="398.30" font-size="12" font-weight="bold" fill="#000" style="stroke:#000;stroke-width:0.45px">G</text>
<text x="85.40" y="400.00" font-size="9.3" text-anchor="middle" textLength="23.1" lengthAdjust="spacingAndGlyphs">TRAIL</text>
<line x1="61.25" y1="411.50" x2="61.25" y2="485.65" stroke="#000" stroke-width="1.3"/>
<line x1="58.25" y1="414.29" x2="61.25" y2="414.29" stroke="#000" stroke-width="0.9"/>
<text x="55.25" y="416.64" font-size="6.5" text-anchor="end" textLength="8.4" lengthAdjust="spacingAndGlyphs">30</text>
<line x1="58.25" y1="437.86" x2="61.25" y2="437.86" stroke="#000" stroke-width="0.9"/>
<text x="55.25" y="440.21" font-size="6.5" text-anchor="end" textLength="8.4" lengthAdjust="spacingAndGlyphs">20</text>
<line x1="58.25" y1="461.43" x2="61.25" y2="461.43" stroke="#000" stroke-width="0.9"/>
<text x="55.25" y="463.78" font-size="6.5" text-anchor="end" textLength="7.7" lengthAdjust="spacingAndGlyphs">10</text>
<line x1="58.25" y1="485.00" x2="61.25" y2="485.00" stroke="#000" stroke-width="0.9"/>
<text x="55.25" y="487.35" font-size="6.5" text-anchor="end" textLength="4.2" lengthAdjust="spacingAndGlyphs">0</text>
<line x1="60.60" y1="485.00" x2="108.80" y2="485.00" stroke="#000" stroke-width="1.3"/>
<line x1="73.30" y1="485.00" x2="73.30" y2="487.50" stroke="#000" stroke-width="0.9"/>
<line x1="97.50" y1="485.00" x2="97.50" y2="487.50" stroke="#000" stroke-width="0.9"/>
<text x="41.90" y="448.40" font-size="8.6" text-anchor="middle" textLength="50.6" lengthAdjust="spacingAndGlyphs" style="stroke:#1a1a1a;stroke-width:0.3px" transform="rotate(-90 41.90 448.40)">% of positive cells</text>
<text x="85.50" y="415.40" font-size="6.5" text-anchor="middle">*</text>
<line x1="73.30" y1="435.80" x2="97.50" y2="445.80" stroke="#000" stroke-width="1.0"/>
<line x1="73.30" y1="449.30" x2="97.50" y2="462.00" stroke="#000" stroke-width="1.0"/>
<line x1="73.30" y1="454.50" x2="97.50" y2="458.00" stroke="#000" stroke-width="1.0"/>
<line x1="73.30" y1="458.00" x2="97.50" y2="468.80" stroke="#000" stroke-width="1.0"/>
<line x1="73.30" y1="472.50" x2="97.50" y2="473.30" stroke="#000" stroke-width="1.0"/>
<line x1="73.30" y1="478.30" x2="97.50" y2="477.50" stroke="#000" stroke-width="1.0"/>
<line x1="73.30" y1="480.80" x2="97.50" y2="485.00" stroke="#000" stroke-width="1.0"/>
<line x1="73.30" y1="480.80" x2="97.50" y2="481.80" stroke="#000" stroke-width="1.0"/>
<circle cx="73.30" cy="435.80" r="1.6" fill="#e60a0a" stroke="#6e0000" stroke-width="0.65"/>
<circle cx="73.30" cy="449.30" r="1.6" fill="#e60a0a" stroke="#6e0000" stroke-width="0.65"/>
<circle cx="73.30" cy="454.50" r="1.6" fill="#e60a0a" stroke="#6e0000" stroke-width="0.65"/>
<circle cx="73.30" cy="458.00" r="1.6" fill="#e60a0a" stroke="#6e0000" stroke-width="0.65"/>
<circle cx="73.30" cy="472.50" r="1.6" fill="#e60a0a" stroke="#6e0000" stroke-width="0.65"/>
<circle cx="73.30" cy="478.30" r="1.6" fill="#e60a0a" stroke="#6e0000" stroke-width="0.65"/>
<circle cx="73.30" cy="480.80" r="1.6" fill="#e60a0a" stroke="#6e0000" stroke-width="0.65"/>
<circle cx="97.50" cy="445.80" r="1.6" fill="#e60a0a" stroke="#6e0000" stroke-width="0.65"/>
<circle cx="97.50" cy="458.00" r="1.6" fill="#e60a0a" stroke="#6e0000" stroke-width="0.65"/>
<circle cx="97.50" cy="462.00" r="1.6" fill="#e60a0a" stroke="#6e0000" stroke-width="0.65"/>
<circle cx="97.50" cy="468.80" r="1.6" fill="#e60a0a" stroke="#6e0000" stroke-width="0.65"/>
<circle cx="97.50" cy="473.30" r="1.6" fill="#e60a0a" stroke="#6e0000" stroke-width="0.65"/>
<circle cx="97.50" cy="477.50" r="1.6" fill="#e60a0a" stroke="#6e0000" stroke-width="0.65"/>
<circle cx="97.50" cy="481.80" r="1.6" fill="#e60a0a" stroke="#6e0000" stroke-width="0.65"/>
<circle cx="97.50" cy="485.00" r="1.6" fill="#e60a0a" stroke="#6e0000" stroke-width="0.65"/>
<text x="76.30" y="496.10" font-size="7.0" text-anchor="end" textLength="34" lengthAdjust="spacingAndGlyphs" style="stroke:#1a1a1a;stroke-width:0.15px" transform="rotate(-45 76.30 496.10)">D1 medium</text>
<text x="100.50" y="496.10" font-size="7.0" text-anchor="end" textLength="29.8" lengthAdjust="spacingAndGlyphs" style="stroke:#1a1a1a;stroke-width:0.15px" transform="rotate(-45 100.50 496.10)">D1 TGF-&#946;</text>
<text x="186.50" y="400.00" font-size="9.3" text-anchor="middle" textLength="27.8" lengthAdjust="spacingAndGlyphs">NKp30</text>
<line x1="162.20" y1="412.00" x2="162.20" y2="486.05" stroke="#000" stroke-width="1.3"/>
<line x1="159.20" y1="414.30" x2="162.20" y2="414.30" stroke="#000" stroke-width="0.9"/>
<text x="156.20" y="416.65" font-size="6.5" text-anchor="end" textLength="11.9" lengthAdjust="spacingAndGlyphs">100</text>
<line x1="159.20" y1="428.52" x2="162.20" y2="428.52" stroke="#000" stroke-width="0.9"/>
<text x="156.20" y="430.87" font-size="6.5" text-anchor="end" textLength="8.4" lengthAdjust="spacingAndGlyphs">80</text>
<line x1="159.20" y1="442.74" x2="162.20" y2="442.74" stroke="#000" stroke-width="0.9"/>
<text x="156.20" y="445.09" font-size="6.5" text-anchor="end" textLength="8.4" lengthAdjust="spacingAndGlyphs">60</text>
<line x1="159.20" y1="456.96" x2="162.20" y2="456.96" stroke="#000" stroke-width="0.9"/>
<text x="156.20" y="459.31" font-size="6.5" text-anchor="end" textLength="8.4" lengthAdjust="spacingAndGlyphs">40</text>
<line x1="159.20" y1="471.18" x2="162.20" y2="471.18" stroke="#000" stroke-width="0.9"/>
<text x="156.20" y="473.53" font-size="6.5" text-anchor="end" textLength="8.4" lengthAdjust="spacingAndGlyphs">20</text>
<line x1="159.20" y1="485.40" x2="162.20" y2="485.40" stroke="#000" stroke-width="0.9"/>
<text x="156.20" y="487.75" font-size="6.5" text-anchor="end" textLength="4.2" lengthAdjust="spacingAndGlyphs">0</text>
<line x1="161.55" y1="485.40" x2="209.50" y2="485.40" stroke="#000" stroke-width="1.3"/>
<line x1="174.20" y1="485.40" x2="174.20" y2="487.90" stroke="#000" stroke-width="0.9"/>
<line x1="198.50" y1="485.40" x2="198.50" y2="487.90" stroke="#000" stroke-width="0.9"/>
<text x="138.60" y="448.40" font-size="8.6" text-anchor="middle" textLength="50.6" lengthAdjust="spacingAndGlyphs" style="stroke:#1a1a1a;stroke-width:0.3px" transform="rotate(-90 138.60 448.40)">% of positive cells</text>
<text x="186.20" y="415.40" font-size="6.5" text-anchor="middle">*</text>
<line x1="174.20" y1="422.60" x2="198.50" y2="434.60" stroke="#000" stroke-width="1.0"/>
<line x1="174.20" y1="424.90" x2="198.50" y2="427.00" stroke="#000" stroke-width="1.0"/>
<line x1="174.20" y1="431.20" x2="198.50" y2="431.20" stroke="#000" stroke-width="1.0"/>
<line x1="174.20" y1="438.80" x2="198.50" y2="446.80" stroke="#000" stroke-width="1.0"/>
<line x1="174.20" y1="446.60" x2="198.50" y2="454.20" stroke="#000" stroke-width="1.0"/>
<line x1="174.20" y1="449.60" x2="198.50" y2="446.80" stroke="#000" stroke-width="1.0"/>
<line x1="174.20" y1="462.30" x2="198.50" y2="464.20" stroke="#000" stroke-width="1.0"/>
<line x1="174.20" y1="424.90" x2="198.50" y2="437.60" stroke="#000" stroke-width="1.0"/>
<circle cx="174.20" cy="422.60" r="1.6" fill="#e60a0a" stroke="#6e0000" stroke-width="0.65"/>
<circle cx="174.20" cy="424.90" r="1.6" fill="#e60a0a" stroke="#6e0000" stroke-width="0.65"/>
<circle cx="174.20" cy="431.20" r="1.6" fill="#e60a0a" stroke="#6e0000" stroke-width="0.65"/>
<circle cx="174.20" cy="438.80" r="1.6" fill="#e60a0a" stroke="#6e0000" stroke-width="0.65"/>
<circle cx="174.20" cy="446.60" r="1.6" fill="#e60a0a" stroke="#6e0000" stroke-width="0.65"/>
<circle cx="174.20" cy="449.60" r="1.6" fill="#e60a0a" stroke="#6e0000" stroke-width="0.65"/>
<circle cx="174.20" cy="462.30" r="1.6" fill="#e60a0a" stroke="#6e0000" stroke-width="0.65"/>
<circle cx="198.50" cy="427.00" r="1.6" fill="#e60a0a" stroke="#6e0000" stroke-width="0.65"/>
<circle cx="198.50" cy="431.20" r="1.6" fill="#e60a0a" stroke="#6e0000" stroke-width="0.65"/>
<circle cx="198.50" cy="434.60" r="1.6" fill="#e60a0a" stroke="#6e0000" stroke-width="0.65"/>
<circle cx="198.50" cy="437.60" r="1.6" fill="#e60a0a" stroke="#6e0000" stroke-width="0.65"/>
<circle cx="198.50" cy="446.80" r="1.6" fill="#e60a0a" stroke="#6e0000" stroke-width="0.65"/>
<circle cx="198.50" cy="454.20" r="1.6" fill="#e60a0a" stroke="#6e0000" stroke-width="0.65"/>
<circle cx="198.50" cy="464.20" r="1.6" fill="#e60a0a" stroke="#6e0000" stroke-width="0.65"/>
<text x="177.20" y="496.50" font-size="7.0" text-anchor="end" textLength="34" lengthAdjust="spacingAndGlyphs" style="stroke:#1a1a1a;stroke-width:0.15px" transform="rotate(-45 177.20 496.50)">D1 medium</text>
<text x="201.50" y="496.50" font-size="7.0" text-anchor="end" textLength="29.8" lengthAdjust="spacingAndGlyphs" style="stroke:#1a1a1a;stroke-width:0.15px" transform="rotate(-45 201.50 496.50)">D1 TGF-&#946;</text>
<text x="287.40" y="399.30" font-size="9.3" text-anchor="middle" textLength="28" lengthAdjust="spacingAndGlyphs">NKp80</text>
<line x1="263.90" y1="411.50" x2="263.90" y2="486.05" stroke="#000" stroke-width="1.3"/>
<line x1="260.90" y1="413.40" x2="263.90" y2="413.40" stroke="#000" stroke-width="0.9"/>
<text x="257.90" y="415.75" font-size="6.5" text-anchor="end" textLength="11.9" lengthAdjust="spacingAndGlyphs">100</text>
<line x1="260.90" y1="427.80" x2="263.90" y2="427.80" stroke="#000" stroke-width="0.9"/>
<text x="257.90" y="430.15" font-size="6.5" text-anchor="end" textLength="8.4" lengthAdjust="spacingAndGlyphs">80</text>
<line x1="260.90" y1="442.20" x2="263.90" y2="442.20" stroke="#000" stroke-width="0.9"/>
<text x="257.90" y="444.55" font-size="6.5" text-anchor="end" textLength="8.4" lengthAdjust="spacingAndGlyphs">60</text>
<line x1="260.90" y1="456.60" x2="263.90" y2="456.60" stroke="#000" stroke-width="0.9"/>
<text x="257.90" y="458.95" font-size="6.5" text-anchor="end" textLength="8.4" lengthAdjust="spacingAndGlyphs">40</text>
<line x1="260.90" y1="471.00" x2="263.90" y2="471.00" stroke="#000" stroke-width="0.9"/>
<text x="257.90" y="473.35" font-size="6.5" text-anchor="end" textLength="8.4" lengthAdjust="spacingAndGlyphs">20</text>
<line x1="260.90" y1="485.40" x2="263.90" y2="485.40" stroke="#000" stroke-width="0.9"/>
<text x="257.90" y="487.75" font-size="6.5" text-anchor="end" textLength="4.2" lengthAdjust="spacingAndGlyphs">0</text>
<line x1="263.25" y1="485.40" x2="311.90" y2="485.40" stroke="#000" stroke-width="1.3"/>
<line x1="275.50" y1="485.40" x2="275.50" y2="487.90" stroke="#000" stroke-width="0.9"/>
<line x1="299.90" y1="485.40" x2="299.90" y2="487.90" stroke="#000" stroke-width="0.9"/>
<text x="240.30" y="448.40" font-size="8.6" text-anchor="middle" textLength="50.6" lengthAdjust="spacingAndGlyphs" style="stroke:#1a1a1a;stroke-width:0.3px" transform="rotate(-90 240.30 448.40)">% of positive cells</text>
<line x1="275.50" y1="416.60" x2="299.90" y2="418.50" stroke="#000" stroke-width="1.0"/>
<line x1="275.50" y1="418.00" x2="299.90" y2="414.50" stroke="#000" stroke-width="1.0"/>
<line x1="275.50" y1="420.80" x2="299.90" y2="416.20" stroke="#000" stroke-width="1.0"/>
<line x1="275.50" y1="423.10" x2="299.90" y2="423.10" stroke="#000" stroke-width="1.0"/>
<line x1="275.50" y1="426.10" x2="299.90" y2="426.50" stroke="#000" stroke-width="1.0"/>
<line x1="275.50" y1="453.10" x2="299.90" y2="458.40" stroke="#000" stroke-width="1.0"/>
<line x1="275.50" y1="416.60" x2="299.90" y2="423.10" stroke="#000" stroke-width="1.0"/>
<circle cx="275.50" cy="416.60" r="1.6" fill="#e60a0a" stroke="#6e0000" stroke-width="0.65"/>
<circle cx="275.50" cy="418.00" r="1.6" fill="#e60a0a" stroke="#6e0000" stroke-width="0.65"/>
<circle cx="275.50" cy="420.80" r="1.6" fill="#e60a0a" stroke="#6e0000" stroke-width="0.65"/>
<circle cx="275.50" cy="423.10" r="1.6" fill="#e60a0a" stroke="#6e0000" stroke-width="0.65"/>
<circle cx="275.50" cy="426.10" r="1.6" fill="#e60a0a" stroke="#6e0000" stroke-width="0.65"/>
<circle cx="275.50" cy="453.10" r="1.6" fill="#e60a0a" stroke="#6e0000" stroke-width="0.65"/>
<circle cx="299.90" cy="414.50" r="1.6" fill="#e60a0a" stroke="#6e0000" stroke-width="0.65"/>
<circle cx="299.90" cy="416.20" r="1.6" fill="#e60a0a" stroke="#6e0000" stroke-width="0.65"/>
<circle cx="299.90" cy="418.50" r="1.6" fill="#e60a0a" stroke="#6e0000" stroke-width="0.65"/>
<circle cx="299.90" cy="423.10" r="1.6" fill="#e60a0a" stroke="#6e0000" stroke-width="0.65"/>
<circle cx="299.90" cy="426.50" r="1.6" fill="#e60a0a" stroke="#6e0000" stroke-width="0.65"/>
<circle cx="299.90" cy="458.40" r="1.6" fill="#e60a0a" stroke="#6e0000" stroke-width="0.65"/>
<text x="278.50" y="496.50" font-size="7.0" text-anchor="end" textLength="34" lengthAdjust="spacingAndGlyphs" style="stroke:#1a1a1a;stroke-width:0.15px" transform="rotate(-45 278.50 496.50)">D1 medium</text>
<text x="302.90" y="496.50" font-size="7.0" text-anchor="end" textLength="29.8" lengthAdjust="spacingAndGlyphs" style="stroke:#1a1a1a;stroke-width:0.15px" transform="rotate(-45 302.90 496.50)">D1 TGF-&#946;</text>
<text x="8.40" y="541.30" font-size="12" font-weight="bold" fill="#000" style="stroke:#000;stroke-width:0.45px">H</text>
<rect x="39.70" y="560.80" width="11.75" height="6.75" fill="#dcdcf0"/>
<rect x="51.40" y="560.80" width="11.75" height="6.75" fill="#b4b4de"/>
<rect x="63.10" y="560.80" width="11.75" height="6.75" fill="#e2e2f2"/>
<rect x="74.80" y="560.80" width="11.75" height="6.75" fill="#f0c8c8"/>
<rect x="86.50" y="560.80" width="11.75" height="6.75" fill="#2a2a8e"/>
<rect x="98.20" y="560.80" width="11.75" height="6.75" fill="#e6e6f4"/>
<rect x="109.90" y="560.80" width="11.75" height="6.75" fill="#fafafc"/>
<rect x="121.60" y="560.80" width="11.75" height="6.75" fill="#c2c2e4"/>
<rect x="133.30" y="560.80" width="11.75" height="6.75" fill="#f8f8fa"/>
<rect x="145.00" y="560.80" width="11.75" height="6.75" fill="#e8b8b8"/>
<rect x="156.70" y="560.80" width="11.75" height="6.75" fill="#ecc2c2"/>
<rect x="168.40" y="560.80" width="11.75" height="6.75" fill="#f4f4fa"/>
<rect x="180.10" y="560.80" width="11.75" height="6.75" fill="#dcdcf0"/>
<rect x="191.80" y="560.80" width="11.75" height="6.75" fill="#f2d8d8"/>
<rect x="203.50" y="560.80" width="11.75" height="6.75" fill="#ffffff"/>
<rect x="215.20" y="560.80" width="11.75" height="6.75" fill="#cc3434"/>
<rect x="226.90" y="560.80" width="11.75" height="6.75" fill="#c42222"/>
<rect x="238.60" y="560.80" width="11.75" height="6.75" fill="#cc3030"/>
<rect x="39.70" y="567.50" width="11.75" height="6.95" fill="#d05252"/>
<rect x="51.40" y="567.50" width="11.75" height="6.95" fill="#e09494"/>
<rect x="63.10" y="567.50" width="11.75" height="6.95" fill="#c01414"/>
<rect x="74.80" y="567.50" width="11.75" height="6.95" fill="#fcf0f0"/>
<rect x="86.50" y="567.50" width="11.75" height="6.95" fill="#d0d0ec"/>
<rect x="98.20" y="567.50" width="11.75" height="6.95" fill="#c8c8e6"/>
<rect x="109.90" y="567.50" width="11.75" height="6.95" fill="#ffffff"/>
<rect x="121.60" y="567.50" width="11.75" height="6.95" fill="#ffffff"/>
<rect x="133.30" y="567.50" width="11.75" height="6.95" fill="#fcf2f2"/>
<rect x="145.00" y="567.50" width="11.75" height="6.95" fill="#ffffff"/>
<rect x="156.70" y="567.50" width="11.75" height="6.95" fill="#e8b4b4"/>
<rect x="168.40" y="567.50" width="11.75" height="6.95" fill="#3232a0"/>
<rect x="180.10" y="567.50" width="11.75" height="6.95" fill="#b6b6e0"/>
<rect x="191.80" y="567.50" width="11.75" height="6.95" fill="#b8b8e0"/>
<rect x="203.50" y="567.50" width="11.75" height="6.95" fill="#a2a2d4"/>
<rect x="215.20" y="567.50" width="11.75" height="6.95" fill="#e4a8a8"/>
<rect x="226.90" y="567.50" width="11.75" height="6.95" fill="#e0a0a0"/>
<rect x="238.60" y="567.50" width="11.75" height="6.95" fill="#e0a4a4"/>
<rect x="39.70" y="574.40" width="11.75" height="6.65" fill="#e4e4f4"/>
<rect x="51.40" y="574.40" width="11.75" height="6.65" fill="#f4dcdc"/>
<rect x="63.10" y="574.40" width="11.75" height="6.65" fill="#ffffff"/>
<rect x="74.80" y="574.40" width="11.75" height="6.65" fill="#a8a8dc"/>
<rect x="86.50" y="574.40" width="11.75" height="6.65" fill="#fbeeee"/>
<rect x="98.20" y="574.40" width="11.75" height="6.65" fill="#7272c0"/>
<rect x="109.90" y="574.40" width="11.75" height="6.65" fill="#6060a8"/>
<rect x="121.60" y="574.40" width="11.75" height="6.65" fill="#a4a4d4"/>
<rect x="133.30" y="574.40" width="11.75" height="6.65" fill="#b2b2dc"/>
<rect x="145.00" y="574.40" width="11.75" height="6.65" fill="#f0d0d0"/>
<rect x="156.70" y="574.40" width="11.75" height="6.65" fill="#e0a8a8"/>
<rect x="168.40" y="574.40" width="11.75" height="6.65" fill="#ececf6"/>
<rect x="180.10" y="574.40" width="11.75" height="6.65" fill="#f4dada"/>
<rect x="191.80" y="574.40" width="11.75" height="6.65" fill="#faf0f0"/>
<rect x="203.50" y="574.40" width="11.75" height="6.65" fill="#f0d0d0"/>
<rect x="215.20" y="574.40" width="11.75" height="6.65" fill="#c82828"/>
<rect x="226.90" y="574.40" width="11.75" height="6.65" fill="#c01818"/>
<rect x="238.60" y="574.40" width="11.75" height="6.65" fill="#cc3a3a"/>
<line x1="39.70" y1="560.80" x2="39.70" y2="581.00" stroke="#d0d0d0" stroke-width="0.6"/>
<line x1="51.40" y1="560.80" x2="51.40" y2="581.00" stroke="#d0d0d0" stroke-width="0.6"/>
<line x1="63.10" y1="560.80" x2="63.10" y2="581.00" stroke="#d0d0d0" stroke-width="0.6"/>
<line x1="74.80" y1="560.80" x2="74.80" y2="581.00" stroke="#d0d0d0" stroke-width="0.6"/>
<line x1="86.50" y1="560.80" x2="86.50" y2="581.00" stroke="#d0d0d0" stroke-width="0.6"/>
<line x1="98.20" y1="560.80" x2="98.20" y2="581.00" stroke="#d0d0d0" stroke-width="0.6"/>
<line x1="109.90" y1="560.80" x2="109.90" y2="581.00" stroke="#d0d0d0" stroke-width="0.6"/>
<line x1="121.60" y1="560.80" x2="121.60" y2="581.00" stroke="#d0d0d0" stroke-width="0.6"/>
<line x1="133.30" y1="560.80" x2="133.30" y2="581.00" stroke="#d0d0d0" stroke-width="0.6"/>
<line x1="145.00" y1="560.80" x2="145.00" y2="581.00" stroke="#d0d0d0" stroke-width="0.6"/>
<line x1="156.70" y1="560.80" x2="156.70" y2="581.00" stroke="#d0d0d0" stroke-width="0.6"/>
<line x1="168.40" y1="560.80" x2="168.40" y2="581.00" stroke="#d0d0d0" stroke-width="0.6"/>
<line x1="180.10" y1="560.80" x2="180.10" y2="581.00" stroke="#d0d0d0" stroke-width="0.6"/>
<line x1="191.80" y1="560.80" x2="191.80" y2="581.00" stroke="#d0d0d0" stroke-width="0.6"/>
<line x1="203.50" y1="560.80" x2="203.50" y2="581.00" stroke="#d0d0d0" stroke-width="0.6"/>
<line x1="215.20" y1="560.80" x2="215.20" y2="581.00" stroke="#d0d0d0" stroke-width="0.6"/>
<line x1="226.90" y1="560.80" x2="226.90" y2="581.00" stroke="#d0d0d0" stroke-width="0.6"/>
<line x1="238.60" y1="560.80" x2="238.60" y2="581.00" stroke="#d0d0d0" stroke-width="0.6"/>
<line x1="250.30" y1="560.80" x2="250.30" y2="581.00" stroke="#d0d0d0" stroke-width="0.6"/>
<line x1="39.70" y1="560.80" x2="250.30" y2="560.80" stroke="#d0d0d0" stroke-width="0.6"/>
<line x1="39.70" y1="567.50" x2="250.30" y2="567.50" stroke="#d0d0d0" stroke-width="0.6"/>
<line x1="39.70" y1="574.40" x2="250.30" y2="574.40" stroke="#d0d0d0" stroke-width="0.6"/>
<line x1="39.70" y1="581.00" x2="250.30" y2="581.00" stroke="#d0d0d0" stroke-width="0.6"/>
<line x1="42.00" y1="558.00" x2="73.60" y2="558.00" stroke="#6a6a6a" stroke-width="1.5"/>
<text x="57.80" y="552.30" font-size="7.0" text-anchor="middle" fill="#222">ILC1</text>
<line x1="77.10" y1="558.00" x2="108.70" y2="558.00" stroke="#6a6a6a" stroke-width="1.5"/>
<text x="92.90" y="552.30" font-size="7.0" text-anchor="middle" fill="#222">ILC2</text>
<line x1="112.20" y1="558.00" x2="143.80" y2="558.00" stroke="#6a6a6a" stroke-width="1.5"/>
<text x="128.00" y="552.30" font-size="7.0" text-anchor="middle" fill="#222">ILCP</text>
<line x1="147.30" y1="558.00" x2="178.90" y2="558.00" stroke="#6a6a6a" stroke-width="1.5"/>
<text x="163.10" y="547.80" font-size="7.0" text-anchor="middle" fill="#222">CD56+</text>
<text x="163.10" y="556.00" font-size="7.0" text-anchor="middle" fill="#222">ILC1-like</text>
<line x1="182.40" y1="558.00" x2="214.00" y2="558.00" stroke="#6a6a6a" stroke-width="1.5"/>
<text x="198.20" y="547.80" font-size="7.0" text-anchor="middle" fill="#222">CD56bright</text>
<text x="198.20" y="556.00" font-size="7.0" text-anchor="middle" fill="#222">NK</text>
<line x1="217.50" y1="558.00" x2="249.10" y2="558.00" stroke="#6a6a6a" stroke-width="1.5"/>
<text x="233.30" y="547.80" font-size="7.0" text-anchor="middle" fill="#222">CD56dim</text>
<text x="233.30" y="556.00" font-size="7.0" text-anchor="middle" fill="#222">NK</text>
<text x="253.80" y="566.20" font-size="6.5" textLength="25.6" lengthAdjust="spacingAndGlyphs">TGFBR1</text>
<text x="253.80" y="573.75" font-size="6.5" textLength="25.6" lengthAdjust="spacingAndGlyphs">TGFBR2</text>
<text x="253.80" y="581.30" font-size="6.5" textLength="25.6" lengthAdjust="spacingAndGlyphs">TGFBR3</text>
<text x="293.50" y="546.80" font-size="8.3" text-anchor="middle" textLength="20.8" lengthAdjust="spacingAndGlyphs" fill="#222">z-score</text>
<defs><linearGradient id="zg" x1="0" y1="0" x2="0" y2="1"><stop offset="0" stop-color="#a00000"/><stop offset="0.5" stop-color="#ffffff"/><stop offset="1" stop-color="#000070"/></linearGradient></defs>
<rect x="288.5" y="551.2" width="3" height="31.7" fill="url(#zg)"/>
<text x="294.80" y="557.20" font-size="6.3">Max</text>
<text x="294.80" y="581.50" font-size="6.3">Min</text>
<text x="11.20" y="598.80" font-size="12" font-weight="bold" fill="#000" style="stroke:#000;stroke-width:0.45px">I</text>
<rect x="70.00" y="670.05" width="17.00" height="9.45" fill="#c8c8cc"/>
<rect x="95.80" y="659.96" width="17.20" height="19.54" fill="#8a80c4"/>
<line x1="78.50" y1="670.05" x2="78.50" y2="665.00" stroke="#000" stroke-width="1.0"/>
<line x1="74.10" y1="665.00" x2="82.90" y2="665.00" stroke="#000" stroke-width="1.0"/>
<line x1="104.40" y1="659.96" x2="104.40" y2="653.10" stroke="#000" stroke-width="1.0"/>
<line x1="100.00" y1="653.10" x2="108.80" y2="653.10" stroke="#000" stroke-width="1.0"/>
<line x1="61.25" y1="609.00" x2="61.25" y2="680.15" stroke="#000" stroke-width="1.3"/>
<line x1="58.25" y1="611.40" x2="61.25" y2="611.40" stroke="#000" stroke-width="0.9"/>
<text x="55.25" y="613.75" font-size="6.5" text-anchor="end" textLength="14.0" lengthAdjust="spacingAndGlyphs">0.25</text>
<line x1="58.25" y1="625.04" x2="61.25" y2="625.04" stroke="#000" stroke-width="0.9"/>
<text x="55.25" y="627.39" font-size="6.5" text-anchor="end" textLength="14.0" lengthAdjust="spacingAndGlyphs">0.20</text>
<line x1="58.25" y1="638.68" x2="61.25" y2="638.68" stroke="#000" stroke-width="0.9"/>
<text x="55.25" y="641.03" font-size="6.5" text-anchor="end" textLength="13.3" lengthAdjust="spacingAndGlyphs">0.15</text>
<line x1="58.25" y1="652.32" x2="61.25" y2="652.32" stroke="#000" stroke-width="0.9"/>
<text x="55.25" y="654.67" font-size="6.5" text-anchor="end" textLength="13.3" lengthAdjust="spacingAndGlyphs">0.10</text>
<line x1="58.25" y1="665.96" x2="61.25" y2="665.96" stroke="#000" stroke-width="0.9"/>
<text x="55.25" y="668.31" font-size="6.5" text-anchor="end" textLength="14.0" lengthAdjust="spacingAndGlyphs">0.05</text>
<line x1="58.25" y1="679.60" x2="61.25" y2="679.60" stroke="#000" stroke-width="0.9"/>
<text x="55.25" y="681.95" font-size="6.5" text-anchor="end" textLength="14.0" lengthAdjust="spacingAndGlyphs">0.00</text>
<line x1="60.60" y1="679.50" x2="121.80" y2="679.50" stroke="#000" stroke-width="1.3"/>
<line x1="78.50" y1="679.50" x2="78.50" y2="682.00" stroke="#000" stroke-width="0.9"/>
<line x1="104.40" y1="679.50" x2="104.40" y2="682.00" stroke="#000" stroke-width="0.9"/>
<text x="25.00" y="643.60" font-size="9.0" text-anchor="middle" textLength="92.8" lengthAdjust="spacingAndGlyphs" style="stroke:#1a1a1a;stroke-width:0.3px" transform="rotate(-90 25.00 643.60)">Ratio free active TGFb1 (pg/ml) /</text>
<text x="35.80" y="644.20" font-size="9.0" text-anchor="middle" textLength="55.3" lengthAdjust="spacingAndGlyphs" style="stroke:#1a1a1a;stroke-width:0.3px" transform="rotate(-90 35.80 644.20)">total TGFb1 (pg/ml)</text>
<circle cx="76.00" cy="650.30" r="1.35" fill="#000" stroke="#000" stroke-width="0.2"/>
<circle cx="81.00" cy="643.10" r="1.35" fill="#000" stroke="#000" stroke-width="0.2"/>
<circle cx="81.00" cy="669.00" r="1.35" fill="#000" stroke="#000" stroke-width="0.2"/>
<circle cx="76.00" cy="673.10" r="1.35" fill="#000" stroke="#000" stroke-width="0.2"/>
<circle cx="71.30" cy="676.30" r="1.35" fill="#000" stroke="#000" stroke-width="0.2"/>
<circle cx="76.00" cy="677.30" r="1.35" fill="#000" stroke="#000" stroke-width="0.2"/>
<circle cx="85.60" cy="677.50" r="1.35" fill="#000" stroke="#000" stroke-width="0.2"/>
<circle cx="71.30" cy="679.60" r="1.35" fill="#000" stroke="#000" stroke-width="0.2"/>
<circle cx="81.00" cy="679.60" r="1.35" fill="#000" stroke="#000" stroke-width="0.2"/>
<circle cx="101.90" cy="616.60" r="1.35" fill="#000" stroke="#000" stroke-width="0.2"/>
<circle cx="106.60" cy="631.50" r="1.35" fill="#000" stroke="#000" stroke-width="0.2"/>
<circle cx="106.60" cy="638.80" r="1.35" fill="#000" stroke="#000" stroke-width="0.2"/>
<circle cx="101.90" cy="654.80" r="1.35" fill="#000" stroke="#000" stroke-width="0.2"/>
<circle cx="97.30" cy="668.80" r="1.35" fill="#000" stroke="#000" stroke-width="0.2"/>
<circle cx="97.30" cy="673.50" r="1.35" fill="#000" stroke="#000" stroke-width="0.2"/>
<circle cx="101.90" cy="673.30" r="1.35" fill="#000" stroke="#000" stroke-width="0.2"/>
<circle cx="106.60" cy="672.30" r="1.35" fill="#000" stroke="#000" stroke-width="0.2"/>
<circle cx="106.60" cy="675.40" r="1.35" fill="#000" stroke="#000" stroke-width="0.2"/>
<circle cx="111.30" cy="674.10" r="1.35" fill="#000" stroke="#000" stroke-width="0.2"/>
<circle cx="97.30" cy="676.90" r="1.35" fill="#000" stroke="#000" stroke-width="0.2"/>
<rect x="125.60" y="627.80" width="10.20" height="4.90" fill="#c8c8cc"/>
<text x="139.20" y="632.30" font-size="6.5">HD</text>
<rect x="125.60" y="637.20" width="10.20" height="5.20" fill="#8a80c4"/>
<text x="139.20" y="641.90" font-size="6.5" textLength="49.4" lengthAdjust="spacingAndGlyphs">AML at diagnosis</text>
<path d="M348.75,520.8 L348.75,526.4 C348.75,528.1 347.9,528.45 346.9,528.45 L345.8,528.45" stroke="#000" stroke-width="1.95" fill="none"/>
<line x1="434.4" y1="539.6" x2="446.5" y2="539.6" stroke="#b81030" stroke-width="1.3"/>
<text x="449.80" y="541.60" font-size="5.4" textLength="58.2" lengthAdjust="spacingAndGlyphs">High TGFB1 expression</text>
<line x1="434.4" y1="548.8" x2="446.5" y2="548.8" stroke="#264690" stroke-width="1.3"/>
<text x="449.80" y="550.80" font-size="5.4" textLength="56" lengthAdjust="spacingAndGlyphs">Low TGFB1 expression</text>
<text x="468.80" y="558.50" font-size="5.4" text-anchor="middle" textLength="89" lengthAdjust="spacingAndGlyphs">Cox proportional hazards regression:</text>
<text x="468.60" y="565.20" font-size="5.4" text-anchor="middle" textLength="74.8" lengthAdjust="spacingAndGlyphs">Coef. = 0.47, <tspan font-style="italic">p</tspan>-value = 0.0008</text>
<line x1="358.30" y1="563.60" x2="358.30" y2="671.85" stroke="#000" stroke-width="1.3"/>
<line x1="355.30" y1="566.40" x2="358.30" y2="566.40" stroke="#000" stroke-width="0.9"/>
<text x="352.50" y="568.75" font-size="6.5" text-anchor="end" textLength="9.1" lengthAdjust="spacingAndGlyphs">1.0</text>
<line x1="355.30" y1="586.54" x2="358.30" y2="586.54" stroke="#000" stroke-width="0.9"/>
<text x="352.50" y="588.89" font-size="6.5" text-anchor="end" textLength="9.8" lengthAdjust="spacingAndGlyphs">0.8</text>
<line x1="355.30" y1="606.68" x2="358.30" y2="606.68" stroke="#000" stroke-width="0.9"/>
<text x="352.50" y="609.03" font-size="6.5" text-anchor="end" textLength="9.8" lengthAdjust="spacingAndGlyphs">0.6</text>
<line x1="355.30" y1="626.82" x2="358.30" y2="626.82" stroke="#000" stroke-width="0.9"/>
<text x="352.50" y="629.17" font-size="6.5" text-anchor="end" textLength="9.8" lengthAdjust="spacingAndGlyphs">0.4</text>
<line x1="355.30" y1="646.96" x2="358.30" y2="646.96" stroke="#000" stroke-width="0.9"/>
<text x="352.50" y="649.31" font-size="6.5" text-anchor="end" textLength="9.8" lengthAdjust="spacingAndGlyphs">0.2</text>
<line x1="355.30" y1="667.10" x2="358.30" y2="667.10" stroke="#000" stroke-width="0.9"/>
<text x="352.50" y="669.45" font-size="6.5" text-anchor="end" textLength="9.8" lengthAdjust="spacingAndGlyphs">0.0</text>
<line x1="357.65" y1="671.20" x2="512.50" y2="671.20" stroke="#000" stroke-width="1.3"/>
<line x1="358.30" y1="671.20" x2="358.30" y2="673.80" stroke="#000" stroke-width="0.9"/>
<text x="358.30" y="684.00" font-size="6.5" text-anchor="middle" textLength="4.2" lengthAdjust="spacingAndGlyphs">0</text>
<line x1="404.40" y1="671.20" x2="404.40" y2="673.80" stroke="#000" stroke-width="0.9"/>
<text x="404.40" y="684.00" font-size="6.5" text-anchor="middle" textLength="12.6" lengthAdjust="spacingAndGlyphs">500</text>
<line x1="450.50" y1="671.20" x2="450.50" y2="673.80" stroke="#000" stroke-width="0.9"/>
<text x="450.50" y="684.00" font-size="6.5" text-anchor="middle" textLength="16.1" lengthAdjust="spacingAndGlyphs">1000</text>
<line x1="496.60" y1="671.20" x2="496.60" y2="673.80" stroke="#000" stroke-width="0.9"/>
<text x="496.60" y="684.00" font-size="6.5" text-anchor="middle" textLength="16.1" lengthAdjust="spacingAndGlyphs">1500</text>
<text x="435.50" y="695.60" font-size="8.8" text-anchor="middle" textLength="76.2" lengthAdjust="spacingAndGlyphs" style="stroke:#1a1a1a;stroke-width:0.3px">Time (days since diagnosis)</text>
<text x="337.80" y="617.20" font-size="8.6" text-anchor="middle" textLength="51.6" lengthAdjust="spacingAndGlyphs" style="stroke:#1a1a1a;stroke-width:0.3px" transform="rotate(-90 337.80 617.20)">Survival probability</text>
<polyline points="358.4,571.1 361.0,571.1 361.0,573.6 364.4,573.6 364.4,576.2 366.9,576.2 366.9,578.7 369.5,578.7 369.5,582.1 372.9,582.1 372.9,583.8 375.4,583.8 375.4,585.2 378.0,585.2 378.0,586.4 380.5,586.4 380.5,588.1 383.1,588.1 383.1,590.3 384.8,590.3 384.8,592.3 386.5,592.3 386.5,595.7 388.2,595.7 388.2,599.1 389.9,599.1 389.9,602.2 391.6,602.2 391.6,605.1 403.5,605.1 403.5,609.3 411.1,609.3 411.1,615.3 420.5,615.3 420.5,617.8 430.7,617.8 430.7,619.8 433.0,619.8 433.0,622.6 436.8,622.6 436.8,624.6 442.8,624.6 442.8,627.2 445.3,627.2 445.3,629.7 447.9,629.7 447.9,632.8 487.8,632.8 487.8,636.2 509.6,636.2 509.6,640.8 512.5,640.8" fill="none" stroke="#264690" stroke-width="1.5" stroke-linejoin="miter"/>
<polyline points="358.4,574.5 361.0,574.5 361.0,582.1 362.7,582.1 362.7,583.8 369.5,583.8 369.5,586.4 372.0,586.4 372.0,593.2 375.1,593.2 375.1,600.0 377.1,600.0 377.1,610.2 380.2,610.2 380.2,615.3 383.6,615.3 383.6,617.0 385.6,617.0 385.6,622.1 391.6,622.1 391.6,625.5 402.6,625.5 402.6,628.0 406.0,628.0 406.0,629.7 411.1,629.7 411.1,632.8 414.5,632.8 414.5,637.4 425.6,637.4 425.6,643.0 430.7,643.0 430.7,644.8 433.6,644.8 433.6,651.0 489.8,651.0 489.8,658.6 512.5,658.6" fill="none" stroke="#b81030" stroke-width="1.5" stroke-linejoin="miter"/>
<rect x="0" y="1" width="520" height="1" fill="#b4b4b4"/>
<rect x="1" y="0" width="1" height="706" fill="#b4b4b4"/>
<rect x="0" y="704" width="520" height="1" fill="#d4d4d4"/>
<rect x="518" y="0" width="1" height="706" fill="#d4d4d4"/>
<rect x="0" y="0" width="520" height="1" fill="#000"/>
<rect x="0" y="0" width="1" height="706" fill="#000"/>
<rect x="0" y="705" width="520" height="1" fill="#000"/>
<rect x="519" y="0" width="1" height="706" fill="#000"/>
</svg>
</body></html>
